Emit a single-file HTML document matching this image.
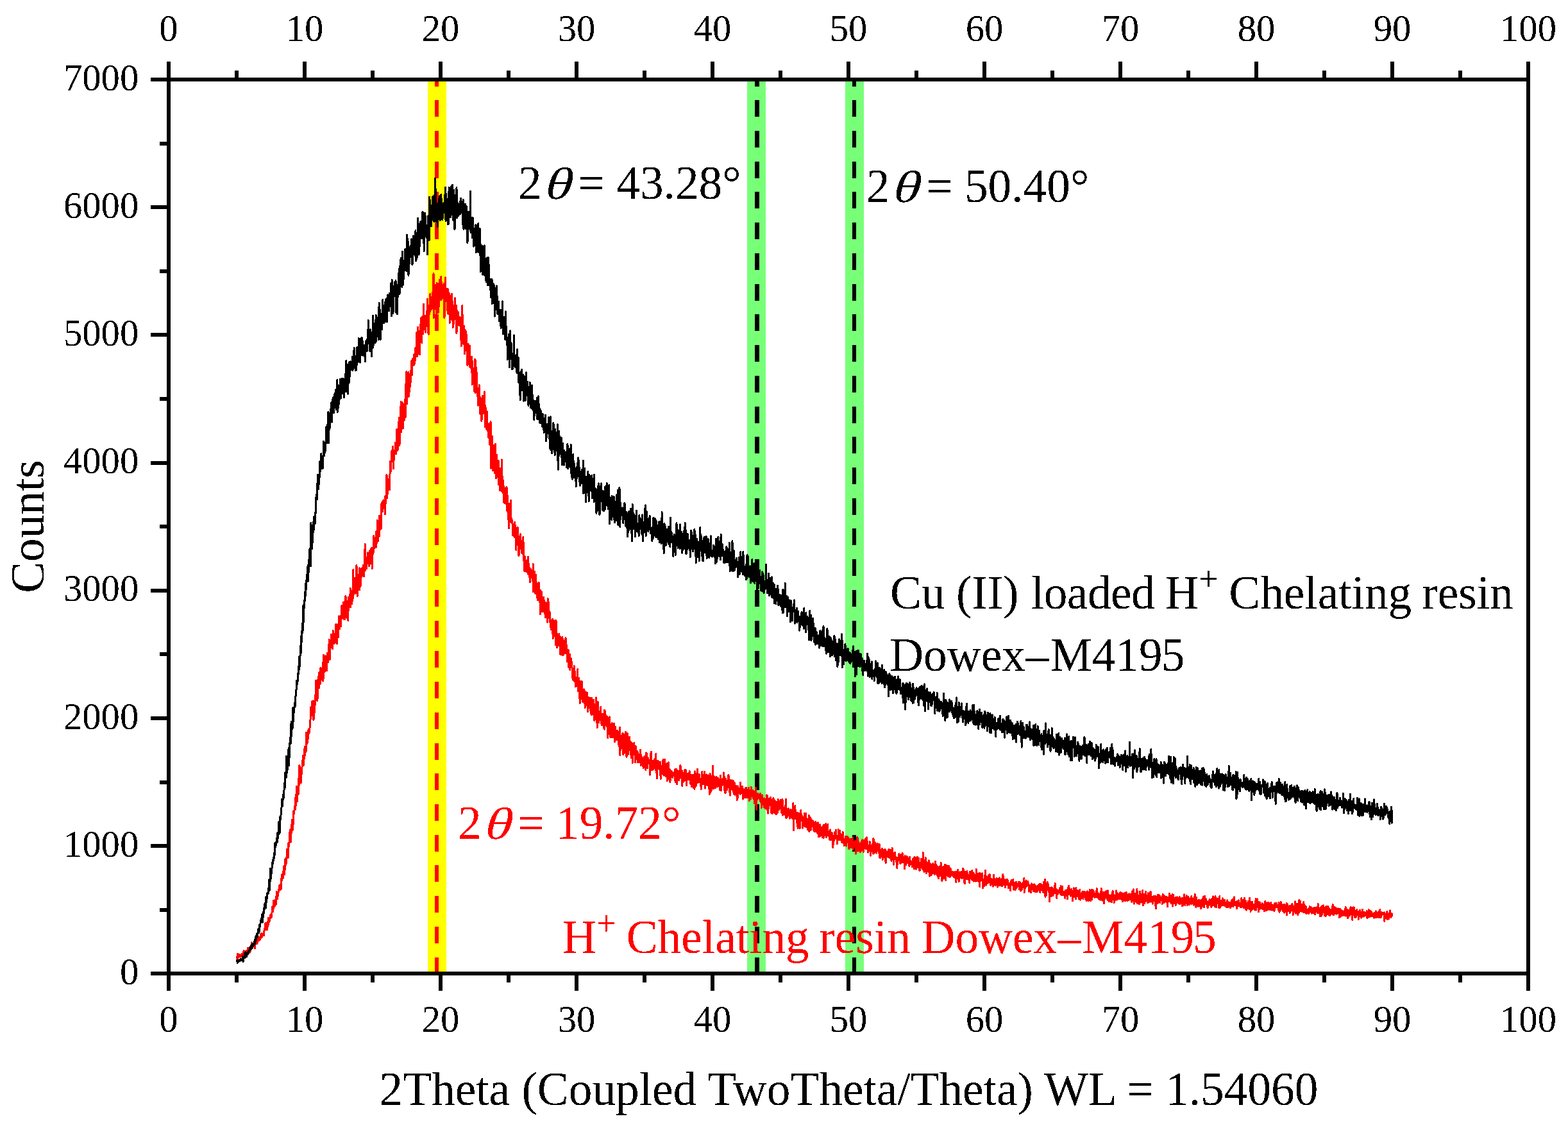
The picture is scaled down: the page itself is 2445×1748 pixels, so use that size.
<!DOCTYPE html>
<html lang="en"><head><meta charset="utf-8"><title>XRD pattern</title>
<style>html,body{margin:0;padding:0;background:#fff}body{width:2445px;height:1748px}svg{display:block}text{font-family:"Liberation Serif",serif;white-space:pre}</style>
</head><body>
<svg width="2445" height="1748" viewBox="0 0 2445 1748">
<defs><filter id="aa" filterUnits="userSpaceOnUse" x="0" y="0" width="2445" height="1748" color-interpolation-filters="sRGB"><feComponentTransfer><feFuncA type="discrete" tableValues="0 1"/></feComponentTransfer></filter></defs>
<rect x="0" y="0" width="2445" height="1748" fill="#ffffff"/>
<rect x="667" y="124" width="29" height="1394" fill="#ffff00" shape-rendering="crispEdges"/>
<rect x="1165" y="124" width="29" height="1394" fill="#78ff78" shape-rendering="crispEdges"/>
<rect x="1318" y="124" width="29" height="1394" fill="#78ff78" shape-rendering="crispEdges"/>
<line x1="681.0" y1="124" x2="681.0" y2="1518" stroke="#ff0000" stroke-width="6" stroke-dasharray="26 21.73" stroke-dashoffset="15.5" shape-rendering="crispEdges"/>
<line x1="1180.5" y1="124" x2="1180.5" y2="1518" stroke="#000000" stroke-width="7" stroke-dasharray="26 21.73" stroke-dashoffset="15.5" shape-rendering="crispEdges"/>
<line x1="1332.0" y1="124" x2="1332.0" y2="1518" stroke="#000000" stroke-width="6" stroke-dasharray="26 21.73" stroke-dashoffset="15.5" shape-rendering="crispEdges"/>
<polyline fill="none" stroke="#ff0000" stroke-width="3" stroke-linejoin="round" shape-rendering="crispEdges" points="369.0,1491.1 369.4,1492.7 369.8,1492.4 370.3,1497.0 370.7,1487.2 371.1,1488.7 371.5,1492.0 372.0,1489.4 372.4,1490.4 372.8,1492.2 373.2,1488.6 373.7,1491.4 374.1,1491.4 374.5,1492.3 374.9,1489.2 375.4,1490.4 375.8,1488.7 376.2,1491.2 376.6,1489.3 377.1,1491.5 377.5,1487.1 377.9,1488.5 378.3,1487.9 378.8,1487.5 379.2,1490.7 379.6,1486.1 380.0,1482.7 380.4,1491.5 380.9,1491.5 381.3,1490.6 381.7,1484.5 382.1,1486.0 382.6,1483.3 383.0,1483.8 383.4,1484.8 383.8,1484.3 384.3,1485.1 384.7,1482.1 385.1,1486.9 385.5,1484.8 386.0,1482.6 386.4,1478.2 386.8,1484.6 387.2,1485.0 387.7,1483.3 388.1,1478.8 388.5,1481.6 388.9,1477.0 389.4,1485.3 389.8,1476.7 390.2,1476.5 390.6,1482.9 391.0,1478.1 391.5,1474.6 391.9,1477.4 392.3,1474.3 392.7,1469.9 393.2,1475.5 393.6,1476.6 394.0,1477.6 394.4,1473.0 394.9,1475.0 395.3,1474.5 395.7,1473.8 396.1,1471.1 396.6,1475.7 397.0,1476.7 397.4,1479.0 397.8,1467.4 398.3,1470.4 398.7,1465.4 399.1,1469.6 399.5,1471.4 400.0,1467.1 400.4,1468.3 400.8,1471.6 401.2,1469.9 401.6,1460.9 402.1,1464.9 402.5,1464.2 402.9,1465.9 403.3,1466.8 403.8,1461.1 404.2,1463.8 404.6,1465.5 405.0,1462.9 405.5,1465.0 405.9,1460.8 406.3,1457.1 406.7,1463.2 407.2,1455.0 407.6,1461.6 408.0,1458.2 408.4,1461.0 408.9,1458.2 409.3,1456.6 409.7,1457.6 410.1,1457.9 410.6,1457.1 411.0,1456.8 411.4,1458.8 411.8,1453.3 412.2,1450.1 412.7,1447.4 413.1,1447.6 413.5,1440.0 413.9,1447.0 414.4,1449.1 414.8,1439.4 415.2,1449.5 415.6,1441.0 416.1,1447.4 416.5,1441.4 416.9,1449.5 417.3,1437.4 417.8,1440.5 418.2,1442.8 418.6,1431.2 419.0,1433.8 419.5,1435.6 419.9,1437.7 420.3,1433.7 420.7,1433.0 421.2,1428.1 421.6,1426.6 422.0,1431.5 422.4,1429.7 422.8,1428.3 423.3,1430.5 423.7,1426.0 424.1,1422.4 424.5,1417.6 425.0,1413.5 425.4,1421.6 425.8,1414.1 426.2,1417.2 426.7,1404.4 427.1,1412.7 427.5,1408.8 427.9,1414.1 428.4,1412.2 428.8,1406.1 429.2,1407.5 429.6,1402.7 430.1,1410.5 430.5,1398.5 430.9,1404.7 431.3,1390.7 431.8,1399.1 432.2,1391.0 432.6,1401.9 433.0,1391.5 433.4,1396.7 433.9,1393.3 434.3,1389.3 434.7,1389.6 435.1,1385.2 435.6,1381.2 436.0,1380.2 436.4,1382.5 436.8,1387.7 437.3,1383.2 437.7,1378.5 438.1,1387.1 438.5,1370.2 439.0,1373.8 439.4,1372.2 439.8,1363.9 440.2,1363.7 440.7,1364.3 441.1,1369.3 441.5,1360.2 441.9,1358.1 442.4,1363.2 442.8,1350.4 443.2,1351.4 443.6,1363.7 444.0,1349.7 444.5,1355.8 444.9,1339.8 445.3,1339.6 445.7,1348.8 446.2,1345.5 446.6,1337.5 447.0,1337.4 447.4,1324.6 447.9,1327.1 448.3,1331.1 448.7,1323.5 449.1,1337.4 449.6,1320.5 450.0,1314.6 450.4,1318.8 450.8,1319.8 451.3,1309.2 451.7,1297.8 452.1,1306.6 452.5,1312.7 453.0,1293.4 453.4,1312.7 453.8,1294.5 454.2,1299.2 454.6,1286.5 455.1,1295.9 455.5,1278.6 455.9,1282.9 456.3,1294.1 456.8,1293.1 457.2,1278.9 457.6,1264.9 458.0,1270.3 458.5,1267.9 458.9,1267.2 459.3,1257.4 459.7,1257.2 460.2,1255.1 460.6,1261.4 461.0,1242.9 461.4,1238.8 461.9,1255.6 462.3,1226.3 462.7,1235.3 463.1,1241.7 463.6,1249.8 464.0,1228.0 464.4,1226.1 464.8,1232.3 465.2,1238.9 465.7,1214.1 466.1,1224.8 466.5,1221.4 466.9,1193.2 467.4,1196.2 467.8,1202.9 468.2,1211.5 468.6,1200.4 469.1,1221.2 469.5,1199.9 469.9,1204.5 470.3,1206.4 470.8,1206.5 471.2,1187.3 471.6,1188.6 472.0,1185.8 472.5,1178.1 472.9,1189.7 473.3,1190.7 473.7,1193.1 474.2,1179.1 474.6,1167.8 475.0,1173.2 475.4,1164.4 475.8,1177.4 476.3,1169.2 476.7,1169.5 477.1,1171.2 477.5,1142.6 478.0,1148.7 478.4,1160.0 478.8,1157.5 479.2,1148.9 479.7,1158.2 480.1,1139.4 480.5,1151.7 480.9,1141.1 481.4,1144.2 481.8,1136.9 482.2,1141.9 482.6,1141.5 483.1,1133.8 483.5,1128.9 483.9,1123.2 484.3,1117.8 484.8,1102.7 485.2,1107.1 485.6,1114.7 486.0,1104.0 486.4,1114.9 486.9,1093.8 487.3,1100.2 487.7,1115.8 488.1,1094.9 488.6,1092.7 489.0,1123.1 489.4,1103.8 489.8,1099.6 490.3,1111.4 490.7,1101.9 491.1,1099.2 491.5,1084.2 492.0,1084.5 492.4,1061.2 492.8,1087.6 493.2,1071.5 493.7,1079.7 494.1,1076.2 494.5,1087.8 494.9,1093.1 495.4,1080.6 495.8,1064.4 496.2,1054.8 496.6,1062.3 497.0,1061.5 497.5,1072.5 497.9,1048.2 498.3,1048.4 498.7,1064.7 499.2,1058.5 499.6,1066.1 500.0,1041.1 500.4,1049.9 500.9,1053.4 501.3,1047.2 501.7,1045.6 502.1,1052.6 502.6,1059.5 503.0,1058.7 503.4,1061.9 503.8,1039.4 504.3,1021.2 504.7,1058.1 505.1,1039.1 505.5,1035.3 506.0,1047.7 506.4,1034.9 506.8,1046.5 507.2,1022.8 507.6,1039.2 508.1,1031.1 508.5,1024.1 508.9,1033.8 509.3,1045.9 509.8,1032.2 510.2,1018.1 510.6,1025.1 511.0,1020.7 511.5,1032.4 511.9,1018.8 512.3,1011.7 512.7,1017.2 513.2,997.1 513.6,1017.0 514.0,1024.0 514.4,1028.4 514.9,999.3 515.3,1010.1 515.7,998.0 516.1,1002.3 516.6,989.2 517.0,991.6 517.4,1006.9 517.8,999.1 518.2,989.6 518.7,1012.0 519.1,983.5 519.5,984.7 519.9,985.9 520.4,996.8 520.8,990.5 521.2,1003.9 521.6,990.7 522.1,996.2 522.5,988.2 522.9,993.0 523.3,983.9 523.8,973.6 524.2,998.1 524.6,973.9 525.0,1003.0 525.5,1003.7 525.9,981.5 526.3,979.1 526.7,973.5 527.2,994.1 527.6,976.6 528.0,973.6 528.4,960.8 528.8,973.9 529.3,966.2 529.7,980.9 530.1,971.6 530.5,973.3 531.0,960.2 531.4,976.9 531.8,974.3 532.2,958.5 532.7,944.7 533.1,958.5 533.5,958.3 533.9,964.1 534.4,948.0 534.8,952.8 535.2,939.1 535.6,952.9 536.1,965.5 536.5,960.5 536.9,963.9 537.3,965.7 537.8,938.0 538.2,941.9 538.6,962.6 539.0,929.5 539.4,944.9 539.9,956.7 540.3,941.4 540.7,945.3 541.1,951.8 541.6,963.4 542.0,941.2 542.4,937.5 542.8,967.4 543.3,932.8 543.7,931.1 544.1,941.9 544.5,934.7 545.0,938.0 545.4,943.0 545.8,937.0 546.2,917.5 546.7,946.9 547.1,927.7 547.5,927.4 547.9,936.1 548.4,932.3 548.8,941.8 549.2,934.9 549.6,924.6 550.0,920.3 550.5,932.7 550.9,888.7 551.3,927.3 551.7,918.8 552.2,921.7 552.6,922.7 553.0,903.2 553.4,921.7 553.9,901.0 554.3,902.1 554.7,925.2 555.1,901.5 555.6,919.1 556.0,880.9 556.4,914.3 556.8,919.5 557.3,929.3 557.7,921.6 558.1,912.8 558.5,916.5 559.0,918.2 559.4,911.4 559.8,905.0 560.2,885.8 560.6,919.8 561.1,906.1 561.5,909.6 561.9,914.9 562.3,911.2 562.8,906.3 563.2,887.3 563.6,896.5 564.0,899.4 564.5,885.7 564.9,888.5 565.3,893.2 565.7,885.5 566.2,898.2 566.6,881.0 567.0,882.0 567.4,890.9 567.9,899.1 568.3,867.5 568.7,882.7 569.1,848.6 569.6,889.4 570.0,871.6 570.4,885.2 570.8,876.6 571.2,869.2 571.7,886.8 572.1,878.0 572.5,874.2 572.9,873.9 573.4,867.5 573.8,861.8 574.2,863.0 574.6,868.6 575.1,874.6 575.5,882.6 575.9,877.2 576.3,873.9 576.8,859.1 577.2,870.1 577.6,879.1 578.0,856.8 578.5,872.1 578.9,870.7 579.3,863.4 579.7,854.4 580.2,886.3 580.6,870.4 581.0,854.4 581.4,859.5 581.8,864.1 582.3,859.1 582.7,835.7 583.1,855.7 583.5,840.9 584.0,838.7 584.4,851.6 584.8,839.9 585.2,848.8 585.7,849.1 586.1,853.6 586.5,828.8 586.9,842.0 587.4,842.2 587.8,847.2 588.2,811.3 588.6,822.0 589.1,830.5 589.5,835.3 589.9,843.3 590.3,820.1 590.8,818.4 591.2,836.5 591.6,804.3 592.0,807.0 592.4,825.7 592.9,819.0 593.3,815.5 593.7,806.6 594.1,808.4 594.6,824.2 595.0,785.2 595.4,797.0 595.8,783.8 596.3,781.9 596.7,797.5 597.1,788.9 597.5,782.3 598.0,779.9 598.4,789.2 598.8,792.7 599.2,782.7 599.7,790.8 600.1,785.7 600.5,801.5 600.9,773.7 601.4,785.0 601.8,777.1 602.2,768.8 602.6,762.1 603.0,740.5 603.5,758.9 603.9,776.5 604.3,755.3 604.7,762.0 605.2,747.5 605.6,758.6 606.0,756.6 606.4,751.9 606.9,751.1 607.3,763.8 607.7,747.2 608.1,736.8 608.6,719.4 609.0,735.9 609.4,734.7 609.8,720.6 610.3,719.0 610.7,703.5 611.1,714.2 611.5,719.7 612.0,700.6 612.4,696.1 612.8,719.5 613.2,709.5 613.6,731.0 614.1,712.4 614.5,717.1 614.9,706.7 615.3,708.3 615.8,702.5 616.2,699.9 616.6,690.4 617.0,692.0 617.5,700.4 617.9,707.9 618.3,673.8 618.7,669.6 619.2,692.0 619.6,677.1 620.0,702.3 620.4,701.0 620.9,682.5 621.3,658.2 621.7,689.0 622.1,684.5 622.6,651.0 623.0,694.6 623.4,659.8 623.8,660.0 624.2,667.2 624.7,660.1 625.1,626.4 625.5,673.5 625.9,660.9 626.4,657.9 626.8,661.9 627.2,668.4 627.6,627.8 628.1,643.8 628.5,667.9 628.9,651.9 629.3,635.2 629.8,633.2 630.2,655.5 630.6,635.5 631.0,628.8 631.5,624.9 631.9,622.8 632.3,650.2 632.7,599.2 633.2,618.9 633.6,595.5 634.0,579.2 634.4,617.6 634.8,629.9 635.3,599.6 635.7,611.6 636.1,613.2 636.5,619.0 637.0,580.2 637.4,606.9 637.8,617.9 638.2,603.0 638.7,610.5 639.1,590.6 639.5,596.4 639.9,603.0 640.4,578.3 640.8,593.1 641.2,572.4 641.6,562.9 642.1,583.0 642.5,584.8 642.9,571.1 643.3,559.5 643.8,569.7 644.2,565.6 644.6,565.9 645.0,559.2 645.4,552.8 645.9,569.2 646.3,564.2 646.7,555.0 647.1,562.9 647.6,549.9 648.0,542.5 648.4,548.5 648.8,554.8 649.3,555.5 649.7,518.6 650.1,529.1 650.5,555.4 651.0,550.0 651.4,510.5 651.8,514.0 652.2,531.8 652.7,515.9 653.1,551.5 653.5,529.2 653.9,517.4 654.4,552.6 654.8,536.1 655.2,512.7 655.6,506.4 656.0,529.3 656.5,515.5 656.9,495.7 657.3,522.4 657.7,534.5 658.2,515.3 658.6,518.7 659.0,493.4 659.4,508.3 659.9,520.7 660.3,474.0 660.7,513.9 661.1,498.8 661.6,494.7 662.0,491.9 662.4,499.3 662.8,492.1 663.3,500.1 663.7,518.1 664.1,499.7 664.5,498.1 665.0,496.5 665.4,490.7 665.8,500.3 666.2,471.1 666.6,466.3 667.1,519.0 667.5,486.0 667.9,495.1 668.3,521.1 668.8,476.5 669.2,490.1 669.6,485.4 670.0,488.2 670.5,462.1 670.9,458.7 671.3,471.5 671.7,464.5 672.2,475.0 672.6,470.4 673.0,482.2 673.4,470.1 673.9,480.0 674.3,463.5 674.7,456.2 675.1,462.8 675.6,449.4 676.0,426.8 676.4,495.4 676.8,463.9 677.2,471.5 677.7,469.1 678.1,481.4 678.5,460.2 678.9,464.0 679.4,468.8 679.8,462.6 680.2,466.9 680.6,491.8 681.1,441.6 681.5,461.2 681.9,470.2 682.3,451.6 682.8,465.5 683.2,487.3 683.6,442.7 684.0,480.0 684.5,458.8 684.9,453.9 685.3,436.2 685.7,438.6 686.2,453.7 686.6,467.4 687.0,462.6 687.4,441.0 687.8,431.2 688.3,449.6 688.7,467.2 689.1,443.2 689.5,464.0 690.0,464.9 690.4,463.4 690.8,451.3 691.2,456.3 691.7,446.3 692.1,442.4 692.5,454.2 692.9,496.0 693.4,487.2 693.8,460.8 694.2,464.6 694.6,432.8 695.1,465.0 695.5,467.3 695.9,451.9 696.3,450.7 696.8,469.9 697.2,460.2 697.6,483.9 698.0,481.6 698.4,450.7 698.9,489.3 699.3,456.2 699.7,460.3 700.1,459.5 700.6,458.0 701.0,463.7 701.4,503.3 701.8,487.5 702.3,482.3 702.7,461.1 703.1,491.2 703.5,485.7 704.0,481.5 704.4,458.0 704.8,498.4 705.2,497.9 705.7,470.1 706.1,510.4 706.5,475.8 706.9,487.9 707.4,504.8 707.8,489.0 708.2,498.2 708.6,482.2 709.0,480.2 709.5,465.0 709.9,487.4 710.3,486.8 710.7,497.5 711.2,490.6 711.6,476.3 712.0,519.9 712.4,484.1 712.9,502.3 713.3,494.8 713.7,492.5 714.1,486.2 714.6,496.2 715.0,506.4 715.4,497.7 715.8,503.2 716.3,507.6 716.7,503.0 717.1,494.8 717.5,506.6 718.0,507.6 718.4,529.3 718.8,514.1 719.2,539.9 719.6,504.7 720.1,529.4 720.5,499.1 720.9,476.4 721.3,525.5 721.8,502.5 722.2,516.8 722.6,531.7 723.0,537.0 723.5,518.6 723.9,508.2 724.3,524.2 724.7,551.7 725.2,546.5 725.6,536.5 726.0,515.7 726.4,532.1 726.9,533.0 727.3,522.1 727.7,543.3 728.1,543.2 728.6,546.0 729.0,569.7 729.4,540.0 729.8,542.4 730.2,536.2 730.7,567.9 731.1,564.4 731.5,541.9 731.9,552.1 732.4,539.3 732.8,572.0 733.2,559.1 733.6,573.0 734.1,561.2 734.5,574.0 734.9,561.7 735.3,556.0 735.8,563.4 736.2,599.3 736.6,563.4 737.0,571.9 737.5,594.0 737.9,593.6 738.3,583.1 738.7,577.0 739.2,592.7 739.6,610.3 740.0,586.0 740.4,589.2 740.8,560.0 741.3,612.3 741.7,562.2 742.1,574.4 742.5,595.6 743.0,578.9 743.4,601.6 743.8,591.3 744.2,616.0 744.7,606.7 745.1,623.0 745.5,632.1 745.9,616.2 746.4,622.9 746.8,608.0 747.2,600.2 747.6,621.0 748.1,619.5 748.5,619.3 748.9,645.8 749.3,621.3 749.8,626.2 750.2,628.4 750.6,643.9 751.0,657.0 751.4,635.4 751.9,629.3 752.3,617.1 752.7,621.3 753.1,618.4 753.6,634.2 754.0,625.2 754.4,644.6 754.8,635.0 755.3,632.5 755.7,610.8 756.1,644.6 756.5,666.0 757.0,632.7 757.4,662.8 757.8,654.8 758.2,659.6 758.7,669.3 759.1,641.7 759.5,653.2 759.9,670.9 760.4,663.9 760.8,672.4 761.2,660.8 761.6,675.8 762.0,682.8 762.5,683.3 762.9,682.7 763.3,675.5 763.7,693.2 764.2,684.6 764.6,679.9 765.0,657.7 765.4,678.9 765.9,730.2 766.3,700.6 766.7,701.2 767.1,694.1 767.6,680.2 768.0,692.7 768.4,733.5 768.8,702.2 769.3,706.5 769.7,704.5 770.1,694.2 770.5,727.0 771.0,700.9 771.4,737.4 771.8,717.5 772.2,715.0 772.6,692.6 773.1,731.8 773.5,745.8 773.9,717.5 774.3,735.9 774.8,709.6 775.2,739.5 775.6,743.1 776.0,718.1 776.5,734.0 776.9,724.1 777.3,755.9 777.7,718.9 778.2,748.3 778.6,732.2 779.0,756.3 779.4,764.5 779.9,749.8 780.3,745.9 780.7,730.0 781.1,746.6 781.6,743.5 782.0,745.7 782.4,716.9 782.8,766.8 783.2,742.7 783.7,761.4 784.1,757.8 784.5,769.2 784.9,749.7 785.4,780.8 785.8,783.1 786.2,771.0 786.6,784.1 787.1,762.9 787.5,761.7 787.9,783.6 788.3,766.4 788.8,785.5 789.2,779.5 789.6,780.4 790.0,759.3 790.5,783.5 790.9,796.1 791.3,797.6 791.7,773.6 792.2,809.7 792.6,796.7 793.0,797.2 793.4,823.5 793.8,801.2 794.3,785.1 794.7,795.8 795.1,810.8 795.5,793.3 796.0,796.9 796.4,780.4 796.8,814.8 797.2,812.1 797.7,808.4 798.1,812.0 798.5,810.8 798.9,814.5 799.4,822.9 799.8,835.0 800.2,824.1 800.6,835.3 801.1,832.7 801.5,828.1 801.9,817.1 802.3,814.4 802.8,838.0 803.2,823.5 803.6,819.1 804.0,830.3 804.4,850.3 804.9,857.6 805.3,824.5 805.7,824.3 806.1,833.1 806.6,849.8 807.0,821.9 807.4,826.0 807.8,841.8 808.3,845.1 808.7,866.5 809.1,836.3 809.5,864.9 810.0,839.6 810.4,840.2 810.8,848.7 811.2,832.8 811.7,855.9 812.1,846.6 812.5,845.4 812.9,852.8 813.4,861.7 813.8,843.9 814.2,854.3 814.6,862.5 815.0,863.3 815.5,861.1 815.9,837.7 816.3,863.6 816.7,868.7 817.2,879.2 817.6,882.1 818.0,890.9 818.4,867.7 818.9,871.2 819.3,884.3 819.7,890.6 820.1,878.5 820.6,881.8 821.0,892.1 821.4,874.7 821.8,877.5 822.3,880.8 822.7,872.6 823.1,889.7 823.5,868.2 824.0,895.9 824.4,879.8 824.8,879.5 825.2,890.6 825.6,884.8 826.1,904.2 826.5,907.6 826.9,894.1 827.3,901.0 827.8,887.3 828.2,894.6 828.6,889.0 829.0,893.4 829.5,895.6 829.9,897.9 830.3,904.0 830.7,906.0 831.2,879.3 831.6,922.4 832.0,905.9 832.4,893.7 832.9,901.2 833.3,891.2 833.7,901.7 834.1,922.6 834.6,913.3 835.0,926.1 835.4,900.8 835.8,896.7 836.2,918.4 836.7,908.5 837.1,920.0 837.5,932.2 837.9,922.3 838.4,935.7 838.8,925.5 839.2,918.0 839.6,913.3 840.1,908.1 840.5,926.8 840.9,921.6 841.3,920.6 841.8,920.1 842.2,958.0 842.6,936.5 843.0,920.4 843.5,942.2 843.9,928.4 844.3,923.0 844.7,953.5 845.2,936.1 845.6,932.5 846.0,935.9 846.4,953.5 846.8,934.3 847.3,945.1 847.7,931.2 848.1,936.4 848.5,948.0 849.0,941.2 849.4,951.5 849.8,952.6 850.2,963.0 850.7,949.7 851.1,939.6 851.5,948.0 851.9,950.5 852.4,958.0 852.8,957.9 853.2,945.4 853.6,970.2 854.1,933.5 854.5,957.0 854.9,934.4 855.3,946.0 855.8,963.8 856.2,952.6 856.6,958.7 857.0,957.5 857.4,955.1 857.9,970.2 858.3,971.9 858.7,970.8 859.1,981.7 859.6,971.1 860.0,967.0 860.4,967.7 860.8,969.3 861.3,976.4 861.7,965.1 862.1,995.6 862.5,979.4 863.0,979.6 863.4,967.8 863.8,971.2 864.2,970.8 864.7,979.9 865.1,971.1 865.5,992.3 865.9,982.1 866.4,1005.6 866.8,967.0 867.2,969.2 867.6,992.7 868.0,996.2 868.5,1009.9 868.9,1005.0 869.3,988.9 869.7,992.6 870.2,1007.0 870.6,997.9 871.0,1000.4 871.4,989.7 871.9,988.1 872.3,998.4 872.7,995.9 873.1,998.0 873.6,1020.1 874.0,997.8 874.4,1001.2 874.8,993.8 875.3,1020.9 875.7,995.4 876.1,1010.5 876.5,1002.2 877.0,993.5 877.4,1021.6 877.8,1020.8 878.2,998.4 878.6,1020.8 879.1,1019.9 879.5,1005.1 879.9,1014.1 880.3,1005.1 880.8,1010.9 881.2,1015.1 881.6,1005.9 882.0,994.8 882.5,1018.6 882.9,1003.8 883.3,1008.2 883.7,1019.4 884.2,1016.9 884.6,1031.8 885.0,1029.6 885.4,1021.7 885.9,1025.9 886.3,1013.6 886.7,1040.3 887.1,1031.4 887.6,1035.8 888.0,1032.1 888.4,1020.1 888.8,1044.5 889.2,1025.3 889.7,1040.5 890.1,1038.9 890.5,1027.0 890.9,1040.6 891.4,1032.4 891.8,1038.8 892.2,1042.7 892.6,1045.6 893.1,1060.0 893.5,1051.4 893.9,1043.6 894.3,1044.3 894.8,1061.7 895.2,1038.6 895.6,1043.8 896.0,1063.1 896.5,1061.7 896.9,1047.8 897.3,1070.8 897.7,1062.1 898.2,1056.7 898.6,1058.5 899.0,1059.0 899.4,1055.9 899.8,1068.5 900.3,1066.7 900.7,1043.6 901.1,1077.7 901.5,1069.8 902.0,1065.6 902.4,1074.0 902.8,1057.4 903.2,1069.4 903.7,1064.1 904.1,1097.0 904.5,1062.2 904.9,1063.6 905.4,1082.6 905.8,1064.3 906.2,1075.0 906.6,1069.8 907.1,1062.5 907.5,1079.4 907.9,1090.7 908.3,1082.2 908.8,1094.8 909.2,1091.1 909.6,1091.5 910.0,1091.7 910.4,1074.9 910.9,1078.7 911.3,1095.4 911.7,1077.2 912.1,1103.9 912.6,1095.0 913.0,1090.8 913.4,1079.2 913.8,1084.0 914.3,1087.1 914.7,1079.8 915.1,1085.8 915.5,1080.3 916.0,1100.7 916.4,1109.5 916.8,1098.3 917.2,1087.4 917.7,1093.1 918.1,1087.8 918.5,1090.0 918.9,1092.3 919.4,1090.0 919.8,1104.5 920.2,1088.4 920.6,1108.1 921.0,1100.4 921.5,1112.8 921.9,1095.7 922.3,1115.0 922.7,1088.4 923.2,1114.0 923.6,1099.8 924.0,1103.9 924.4,1111.1 924.9,1092.2 925.3,1108.0 925.7,1091.2 926.1,1114.3 926.6,1112.8 927.0,1124.1 927.4,1101.5 927.8,1098.6 928.3,1105.4 928.7,1109.4 929.1,1116.8 929.5,1087.7 930.0,1102.8 930.4,1126.7 930.8,1113.3 931.2,1134.6 931.6,1097.4 932.1,1094.3 932.5,1099.5 932.9,1113.6 933.3,1119.0 933.8,1126.8 934.2,1109.9 934.6,1121.9 935.0,1119.1 935.5,1122.0 935.9,1119.6 936.3,1109.3 936.7,1102.7 937.2,1117.0 937.6,1118.7 938.0,1129.3 938.4,1130.9 938.9,1129.9 939.3,1113.1 939.7,1119.3 940.1,1113.3 940.6,1118.7 941.0,1126.6 941.4,1134.6 941.8,1127.3 942.2,1137.2 942.7,1107.3 943.1,1123.2 943.5,1129.3 943.9,1108.9 944.4,1130.5 944.8,1122.6 945.2,1129.5 945.6,1125.4 946.1,1132.3 946.5,1125.2 946.9,1117.5 947.3,1141.7 947.8,1150.7 948.2,1119.6 948.6,1130.6 949.0,1124.8 949.5,1135.6 949.9,1119.9 950.3,1117.9 950.7,1144.8 951.2,1129.0 951.6,1140.8 952.0,1150.1 952.4,1139.1 952.8,1131.9 953.3,1149.4 953.7,1149.2 954.1,1127.5 954.5,1138.6 955.0,1135.8 955.4,1149.8 955.8,1146.0 956.2,1139.7 956.7,1139.6 957.1,1140.4 957.5,1128.3 957.9,1141.2 958.4,1156.5 958.8,1151.2 959.2,1144.6 959.6,1133.4 960.1,1151.0 960.5,1148.9 960.9,1146.2 961.3,1152.6 961.8,1154.0 962.2,1149.4 962.6,1139.1 963.0,1144.0 963.4,1151.2 963.9,1145.6 964.3,1160.7 964.7,1141.3 965.1,1144.0 965.6,1148.3 966.0,1165.4 966.4,1134.1 966.8,1177.4 967.3,1161.2 967.7,1160.9 968.1,1147.4 968.5,1166.7 969.0,1152.2 969.4,1156.0 969.8,1157.6 970.2,1148.1 970.7,1143.6 971.1,1152.9 971.5,1159.1 971.9,1176.7 972.4,1144.9 972.8,1160.5 973.2,1174.2 973.6,1157.4 974.0,1146.7 974.5,1160.7 974.9,1169.9 975.3,1141.0 975.7,1155.5 976.2,1158.2 976.6,1152.8 977.0,1180.4 977.4,1162.9 977.9,1164.1 978.3,1143.7 978.7,1168.2 979.1,1168.5 979.6,1176.1 980.0,1171.6 980.4,1166.8 980.8,1163.2 981.3,1167.5 981.7,1149.2 982.1,1162.5 982.5,1161.7 983.0,1155.9 983.4,1162.5 983.8,1172.7 984.2,1181.8 984.6,1166.1 985.1,1176.6 985.5,1158.8 985.9,1176.9 986.3,1189.6 986.8,1170.9 987.2,1162.6 987.6,1173.8 988.0,1170.9 988.5,1171.6 988.9,1158.8 989.3,1171.2 989.7,1174.5 990.2,1179.7 990.6,1188.7 991.0,1163.5 991.4,1166.1 991.9,1184.1 992.3,1171.4 992.7,1174.2 993.1,1180.5 993.6,1180.3 994.0,1171.8 994.4,1188.6 994.8,1183.2 995.2,1179.9 995.7,1179.7 996.1,1181.7 996.5,1178.5 996.9,1176.3 997.4,1188.5 997.8,1180.7 998.2,1186.1 998.6,1169.5 999.1,1194.1 999.5,1184.7 999.9,1177.2 1000.3,1185.7 1000.8,1186.4 1001.2,1188.4 1001.6,1181.7 1002.0,1194.2 1002.5,1185.5 1002.9,1185.9 1003.3,1197.4 1003.7,1183.3 1004.2,1189.7 1004.6,1183.5 1005.0,1179.2 1005.4,1183.7 1005.8,1196.6 1006.3,1184.4 1006.7,1200.5 1007.1,1193.8 1007.5,1174.0 1008.0,1187.9 1008.4,1175.4 1008.8,1189.9 1009.2,1188.6 1009.7,1198.0 1010.1,1181.3 1010.5,1190.9 1010.9,1184.4 1011.4,1186.1 1011.8,1185.5 1012.2,1187.4 1012.6,1190.6 1013.1,1190.5 1013.5,1196.3 1013.9,1208.2 1014.3,1187.0 1014.8,1174.2 1015.2,1182.6 1015.6,1172.5 1016.0,1187.8 1016.4,1199.8 1016.9,1200.1 1017.3,1186.2 1017.7,1189.6 1018.1,1193.9 1018.6,1186.7 1019.0,1200.1 1019.4,1188.9 1019.8,1195.6 1020.3,1192.2 1020.7,1184.0 1021.1,1195.0 1021.5,1182.8 1022.0,1183.4 1022.4,1200.5 1022.8,1175.6 1023.2,1204.8 1023.7,1195.7 1024.1,1189.1 1024.5,1213.8 1024.9,1187.0 1025.4,1186.4 1025.8,1196.7 1026.2,1193.7 1026.6,1194.4 1027.0,1198.0 1027.5,1187.8 1027.9,1199.7 1028.3,1197.2 1028.7,1194.1 1029.2,1190.4 1029.6,1188.5 1030.0,1209.6 1030.4,1214.3 1030.9,1199.2 1031.3,1198.7 1031.7,1207.2 1032.1,1196.2 1032.6,1193.7 1033.0,1195.9 1033.4,1185.9 1033.8,1207.8 1034.3,1199.4 1034.7,1184.2 1035.1,1194.5 1035.5,1209.2 1036.0,1198.8 1036.4,1191.1 1036.8,1184.0 1037.2,1195.6 1037.6,1191.8 1038.1,1210.3 1038.5,1203.5 1038.9,1192.1 1039.3,1209.6 1039.8,1202.6 1040.2,1217.3 1040.6,1190.6 1041.0,1203.7 1041.5,1198.3 1041.9,1215.1 1042.3,1213.8 1042.7,1188.8 1043.2,1206.3 1043.6,1208.1 1044.0,1199.8 1044.4,1199.6 1044.9,1220.0 1045.3,1212.2 1045.7,1204.1 1046.1,1204.7 1046.6,1202.1 1047.0,1208.5 1047.4,1207.4 1047.8,1203.6 1048.2,1211.0 1048.7,1212.3 1049.1,1210.1 1049.5,1205.8 1049.9,1207.2 1050.4,1210.0 1050.8,1208.3 1051.2,1206.8 1051.6,1204.0 1052.1,1203.8 1052.5,1217.0 1052.9,1199.1 1053.3,1219.8 1053.8,1202.8 1054.2,1212.8 1054.6,1202.7 1055.0,1199.0 1055.5,1222.5 1055.9,1202.9 1056.3,1205.6 1056.7,1211.5 1057.2,1204.9 1057.6,1212.0 1058.0,1207.2 1058.4,1216.6 1058.8,1202.1 1059.3,1203.7 1059.7,1202.6 1060.1,1213.8 1060.5,1194.1 1061.0,1193.1 1061.4,1209.5 1061.8,1212.2 1062.2,1212.2 1062.7,1203.6 1063.1,1201.0 1063.5,1215.1 1063.9,1225.3 1064.4,1205.8 1064.8,1209.8 1065.2,1208.2 1065.6,1205.5 1066.1,1218.5 1066.5,1209.2 1066.9,1212.2 1067.3,1206.9 1067.8,1200.4 1068.2,1210.1 1068.6,1216.9 1069.0,1200.4 1069.4,1204.7 1069.9,1212.0 1070.3,1224.7 1070.7,1217.5 1071.1,1209.5 1071.6,1206.4 1072.0,1215.0 1072.4,1207.5 1072.8,1216.0 1073.3,1214.4 1073.7,1207.0 1074.1,1213.4 1074.5,1210.3 1075.0,1204.6 1075.4,1202.6 1075.8,1216.3 1076.2,1213.7 1076.7,1222.2 1077.1,1222.1 1077.5,1209.6 1077.9,1216.2 1078.4,1226.7 1078.8,1208.1 1079.2,1218.9 1079.6,1214.9 1080.0,1209.3 1080.5,1209.5 1080.9,1213.1 1081.3,1228.4 1081.7,1208.4 1082.2,1217.6 1082.6,1224.1 1083.0,1230.4 1083.4,1202.9 1083.9,1212.2 1084.3,1212.5 1084.7,1208.7 1085.1,1214.2 1085.6,1225.2 1086.0,1208.4 1086.4,1206.0 1086.8,1209.8 1087.3,1202.0 1087.7,1199.2 1088.1,1220.4 1088.5,1217.7 1089.0,1207.4 1089.4,1213.0 1089.8,1212.8 1090.2,1207.3 1090.6,1208.9 1091.1,1218.2 1091.5,1213.8 1091.9,1220.4 1092.3,1216.5 1092.8,1223.7 1093.2,1230.4 1093.6,1219.1 1094.0,1219.9 1094.5,1208.4 1094.9,1203.2 1095.3,1215.3 1095.7,1211.9 1096.2,1220.6 1096.6,1223.0 1097.0,1218.1 1097.4,1218.2 1097.9,1213.7 1098.3,1215.2 1098.7,1203.3 1099.1,1217.9 1099.6,1229.1 1100.0,1215.5 1100.4,1221.6 1100.8,1215.0 1101.2,1207.9 1101.7,1221.7 1102.1,1217.4 1102.5,1212.9 1102.9,1224.3 1103.4,1215.4 1103.8,1212.9 1104.2,1210.9 1104.6,1208.8 1105.1,1213.1 1105.5,1214.4 1105.9,1228.3 1106.3,1238.3 1106.8,1225.1 1107.2,1206.7 1107.6,1216.9 1108.0,1235.3 1108.5,1221.2 1108.9,1215.2 1109.3,1232.4 1109.7,1213.7 1110.2,1227.1 1110.6,1210.3 1111.0,1218.1 1111.4,1194.5 1111.8,1228.8 1112.3,1216.4 1112.7,1230.0 1113.1,1209.9 1113.5,1217.8 1114.0,1211.8 1114.4,1218.1 1114.8,1228.0 1115.2,1224.1 1115.7,1228.7 1116.1,1227.3 1116.5,1218.2 1116.9,1211.2 1117.4,1212.9 1117.8,1215.6 1118.2,1224.0 1118.6,1215.8 1119.1,1226.4 1119.5,1218.3 1119.9,1213.6 1120.3,1221.5 1120.8,1223.8 1121.2,1223.6 1121.6,1215.7 1122.0,1222.9 1122.4,1231.5 1122.9,1223.8 1123.3,1228.9 1123.7,1209.4 1124.1,1220.9 1124.6,1232.4 1125.0,1219.2 1125.4,1215.8 1125.8,1218.5 1126.3,1224.3 1126.7,1220.5 1127.1,1219.6 1127.5,1214.2 1128.0,1219.2 1128.4,1204.8 1128.8,1223.9 1129.2,1210.7 1129.7,1222.4 1130.1,1235.7 1130.5,1231.8 1130.9,1236.9 1131.4,1236.2 1131.8,1214.1 1132.2,1228.4 1132.6,1219.0 1133.0,1230.5 1133.5,1224.0 1133.9,1232.1 1134.3,1217.6 1134.7,1226.3 1135.2,1228.0 1135.6,1226.0 1136.0,1208.4 1136.4,1221.7 1136.9,1218.9 1137.3,1234.9 1137.7,1230.6 1138.1,1223.6 1138.6,1240.1 1139.0,1216.0 1139.4,1224.3 1139.8,1226.7 1140.3,1228.2 1140.7,1228.7 1141.1,1230.9 1141.5,1216.7 1142.0,1222.3 1142.4,1218.2 1142.8,1230.1 1143.2,1234.7 1143.6,1217.9 1144.1,1237.6 1144.5,1233.2 1144.9,1223.4 1145.3,1220.8 1145.8,1239.1 1146.2,1231.4 1146.6,1229.3 1147.0,1230.7 1147.5,1236.3 1147.9,1225.0 1148.3,1234.2 1148.7,1232.2 1149.2,1247.5 1149.6,1231.6 1150.0,1245.5 1150.4,1225.8 1150.9,1227.6 1151.3,1235.3 1151.7,1230.4 1152.1,1231.0 1152.6,1233.1 1153.0,1229.4 1153.4,1233.2 1153.8,1236.0 1154.2,1238.6 1154.7,1220.2 1155.1,1231.5 1155.5,1233.3 1155.9,1227.9 1156.4,1236.4 1156.8,1236.5 1157.2,1228.8 1157.6,1226.3 1158.1,1229.1 1158.5,1245.4 1158.9,1234.1 1159.3,1234.9 1159.8,1231.5 1160.2,1241.6 1160.6,1243.0 1161.0,1236.2 1161.5,1242.2 1161.9,1243.6 1162.3,1236.4 1162.7,1229.2 1163.2,1235.2 1163.6,1228.1 1164.0,1244.0 1164.4,1231.5 1164.8,1237.0 1165.3,1243.6 1165.7,1240.4 1166.1,1243.8 1166.5,1239.2 1167.0,1243.3 1167.4,1228.6 1167.8,1240.8 1168.2,1248.8 1168.7,1239.9 1169.1,1235.8 1169.5,1241.1 1169.9,1232.6 1170.4,1245.9 1170.8,1245.6 1171.2,1227.5 1171.6,1239.6 1172.1,1235.8 1172.5,1236.3 1172.9,1235.9 1173.3,1240.0 1173.8,1241.9 1174.2,1232.7 1174.6,1244.4 1175.0,1240.2 1175.4,1236.2 1175.9,1244.2 1176.3,1252.7 1176.7,1238.3 1177.1,1233.9 1177.6,1240.1 1178.0,1254.4 1178.4,1237.6 1178.8,1228.1 1179.3,1253.9 1179.7,1262.5 1180.1,1244.7 1180.5,1242.6 1181.0,1237.6 1181.4,1237.5 1181.8,1242.9 1182.2,1239.8 1182.7,1241.4 1183.1,1243.1 1183.5,1244.6 1183.9,1245.5 1184.4,1239.4 1184.8,1241.7 1185.2,1247.9 1185.6,1237.1 1186.0,1250.4 1186.5,1246.9 1186.9,1244.5 1187.3,1259.3 1187.7,1248.5 1188.2,1239.8 1188.6,1240.2 1189.0,1254.8 1189.4,1252.4 1189.9,1254.3 1190.3,1248.4 1190.7,1247.3 1191.1,1258.5 1191.6,1244.9 1192.0,1246.9 1192.4,1248.1 1192.8,1252.5 1193.3,1249.2 1193.7,1260.8 1194.1,1246.6 1194.5,1246.9 1195.0,1249.3 1195.4,1257.2 1195.8,1239.8 1196.2,1241.1 1196.6,1262.7 1197.1,1246.5 1197.5,1248.6 1197.9,1268.2 1198.3,1246.4 1198.8,1245.6 1199.2,1245.3 1199.6,1249.5 1200.0,1255.5 1200.5,1254.7 1200.9,1247.6 1201.3,1243.1 1201.7,1255.1 1202.2,1253.9 1202.6,1247.2 1203.0,1267.6 1203.4,1249.4 1203.9,1254.4 1204.3,1268.5 1204.7,1247.8 1205.1,1260.0 1205.6,1248.2 1206.0,1244.3 1206.4,1263.0 1206.8,1262.9 1207.2,1254.8 1207.7,1267.3 1208.1,1250.1 1208.5,1254.2 1208.9,1248.9 1209.4,1268.9 1209.8,1254.9 1210.2,1253.3 1210.6,1269.4 1211.1,1250.8 1211.5,1267.0 1211.9,1256.3 1212.3,1267.1 1212.8,1252.6 1213.2,1246.5 1213.6,1258.2 1214.0,1258.7 1214.5,1250.1 1214.9,1262.6 1215.3,1259.4 1215.7,1254.2 1216.2,1257.3 1216.6,1249.5 1217.0,1252.4 1217.4,1247.5 1217.8,1261.3 1218.3,1253.6 1218.7,1267.3 1219.1,1255.6 1219.5,1249.9 1220.0,1246.0 1220.4,1271.2 1220.8,1264.0 1221.2,1258.1 1221.7,1269.4 1222.1,1259.7 1222.5,1260.0 1222.9,1267.3 1223.4,1267.9 1223.8,1270.8 1224.2,1262.6 1224.6,1256.1 1225.1,1263.1 1225.5,1246.2 1225.9,1275.8 1226.3,1269.8 1226.8,1261.4 1227.2,1274.2 1227.6,1264.1 1228.0,1261.1 1228.4,1265.7 1228.9,1268.7 1229.3,1260.9 1229.7,1264.7 1230.1,1262.8 1230.6,1264.3 1231.0,1272.9 1231.4,1276.1 1231.8,1271.3 1232.3,1267.7 1232.7,1270.4 1233.1,1262.8 1233.5,1267.8 1234.0,1263.1 1234.4,1269.2 1234.8,1275.2 1235.2,1264.6 1235.7,1267.2 1236.1,1276.7 1236.5,1273.9 1236.9,1252.1 1237.4,1294.8 1237.8,1264.0 1238.2,1271.6 1238.6,1272.7 1239.0,1274.5 1239.5,1276.2 1239.9,1256.6 1240.3,1276.1 1240.7,1275.4 1241.2,1268.0 1241.6,1271.1 1242.0,1275.2 1242.4,1276.2 1242.9,1283.5 1243.3,1267.2 1243.7,1282.1 1244.1,1291.7 1244.6,1268.1 1245.0,1270.4 1245.4,1273.4 1245.8,1279.5 1246.3,1268.0 1246.7,1283.8 1247.1,1291.6 1247.5,1275.7 1248.0,1271.5 1248.4,1273.0 1248.8,1263.3 1249.2,1272.0 1249.6,1279.5 1250.1,1279.5 1250.5,1272.3 1250.9,1279.0 1251.3,1279.7 1251.8,1291.1 1252.2,1281.4 1252.6,1288.3 1253.0,1278.1 1253.5,1279.0 1253.9,1275.2 1254.3,1268.1 1254.7,1281.8 1255.2,1270.9 1255.6,1288.7 1256.0,1280.1 1256.4,1274.9 1256.9,1268.3 1257.3,1289.3 1257.7,1283.8 1258.1,1281.3 1258.6,1283.2 1259.0,1289.2 1259.4,1294.0 1259.8,1291.5 1260.2,1283.9 1260.7,1292.7 1261.1,1271.7 1261.5,1275.6 1261.9,1297.1 1262.4,1287.7 1262.8,1275.6 1263.2,1275.0 1263.6,1277.5 1264.1,1295.0 1264.5,1288.0 1264.9,1277.0 1265.3,1285.2 1265.8,1289.2 1266.2,1282.9 1266.6,1279.9 1267.0,1285.8 1267.5,1285.3 1267.9,1279.9 1268.3,1291.2 1268.7,1293.8 1269.2,1282.6 1269.6,1296.1 1270.0,1284.9 1270.4,1293.4 1270.8,1283.0 1271.3,1296.9 1271.7,1281.5 1272.1,1287.4 1272.5,1291.6 1273.0,1295.6 1273.4,1291.0 1273.8,1296.4 1274.2,1298.5 1274.7,1283.4 1275.1,1286.8 1275.5,1282.8 1275.9,1300.3 1276.4,1304.6 1276.8,1302.3 1277.2,1287.6 1277.6,1286.8 1278.1,1304.8 1278.5,1285.8 1278.9,1295.7 1279.3,1301.1 1279.8,1293.8 1280.2,1289.7 1280.6,1295.2 1281.0,1295.1 1281.4,1299.8 1281.9,1303.9 1282.3,1297.1 1282.7,1305.7 1283.1,1291.1 1283.6,1301.0 1284.0,1286.8 1284.4,1306.3 1284.8,1286.6 1285.3,1302.1 1285.7,1302.3 1286.1,1294.7 1286.5,1290.9 1287.0,1297.3 1287.4,1299.7 1287.8,1284.3 1288.2,1294.3 1288.7,1305.9 1289.1,1299.9 1289.5,1287.2 1289.9,1296.4 1290.4,1293.3 1290.8,1285.6 1291.2,1303.1 1291.6,1297.0 1292.0,1304.0 1292.5,1299.9 1292.9,1296.5 1293.3,1309.1 1293.7,1299.5 1294.2,1299.7 1294.6,1293.9 1295.0,1305.0 1295.4,1309.7 1295.9,1298.9 1296.3,1309.1 1296.7,1300.7 1297.1,1298.3 1297.6,1308.0 1298.0,1303.3 1298.4,1309.5 1298.8,1321.5 1299.3,1312.6 1299.7,1317.0 1300.1,1303.3 1300.5,1310.7 1301.0,1304.8 1301.4,1304.4 1301.8,1297.3 1302.2,1306.7 1302.6,1307.2 1303.1,1301.5 1303.5,1294.4 1303.9,1305.7 1304.3,1303.1 1304.8,1306.8 1305.2,1310.3 1305.6,1315.9 1306.0,1306.6 1306.5,1308.0 1306.9,1308.0 1307.3,1293.7 1307.7,1308.9 1308.2,1304.8 1308.6,1309.4 1309.0,1299.6 1309.4,1309.3 1309.9,1295.5 1310.3,1309.5 1310.7,1302.9 1311.1,1301.5 1311.6,1309.8 1312.0,1302.9 1312.4,1308.2 1312.8,1313.7 1313.2,1313.3 1313.7,1307.0 1314.1,1297.8 1314.5,1312.6 1314.9,1306.1 1315.4,1315.0 1315.8,1308.3 1316.2,1318.5 1316.6,1315.4 1317.1,1310.5 1317.5,1315.4 1317.9,1312.5 1318.3,1304.4 1318.8,1311.9 1319.2,1315.8 1319.6,1319.3 1320.0,1315.0 1320.5,1304.3 1320.9,1312.4 1321.3,1312.9 1321.7,1307.5 1322.2,1306.9 1322.6,1306.0 1323.0,1314.9 1323.4,1318.6 1323.8,1323.6 1324.3,1317.4 1324.7,1315.5 1325.1,1308.6 1325.5,1311.4 1326.0,1317.2 1326.4,1308.1 1326.8,1321.9 1327.2,1320.7 1327.7,1321.6 1328.1,1321.2 1328.5,1316.0 1328.9,1319.9 1329.4,1319.5 1329.8,1306.3 1330.2,1324.3 1330.6,1321.6 1331.1,1316.7 1331.5,1312.5 1331.9,1312.4 1332.3,1317.3 1332.8,1318.0 1333.2,1317.5 1333.6,1311.2 1334.0,1321.9 1334.4,1331.1 1334.9,1315.2 1335.3,1323.9 1335.7,1317.0 1336.1,1307.9 1336.6,1316.2 1337.0,1305.3 1337.4,1327.1 1337.8,1315.7 1338.3,1314.8 1338.7,1312.2 1339.1,1322.2 1339.5,1316.7 1340.0,1317.0 1340.4,1317.3 1340.8,1326.7 1341.2,1329.0 1341.7,1314.8 1342.1,1316.2 1342.5,1318.3 1342.9,1314.6 1343.4,1311.9 1343.8,1326.2 1344.2,1314.0 1344.6,1309.7 1345.0,1312.7 1345.5,1315.6 1345.9,1315.0 1346.3,1328.6 1346.7,1322.7 1347.2,1313.3 1347.6,1310.5 1348.0,1317.0 1348.4,1322.9 1348.9,1321.0 1349.3,1314.9 1349.7,1307.7 1350.1,1315.5 1350.6,1323.9 1351.0,1316.8 1351.4,1318.1 1351.8,1305.9 1352.3,1317.3 1352.7,1320.9 1353.1,1321.7 1353.5,1329.1 1354.0,1328.1 1354.4,1324.6 1354.8,1326.8 1355.2,1320.6 1355.6,1321.3 1356.1,1316.2 1356.5,1312.7 1356.9,1321.3 1357.3,1323.6 1357.8,1334.1 1358.2,1320.3 1358.6,1318.6 1359.0,1327.7 1359.5,1325.4 1359.9,1327.5 1360.3,1316.6 1360.7,1319.5 1361.2,1315.9 1361.6,1331.1 1362.0,1307.2 1362.4,1329.1 1362.9,1330.3 1363.3,1322.9 1363.7,1327.6 1364.1,1313.1 1364.6,1327.0 1365.0,1328.8 1365.4,1318.7 1365.8,1317.3 1366.2,1330.2 1366.7,1328.1 1367.1,1327.5 1367.5,1326.4 1367.9,1314.9 1368.4,1317.9 1368.8,1319.2 1369.2,1318.1 1369.6,1326.0 1370.1,1320.8 1370.5,1326.8 1370.9,1331.1 1371.3,1316.4 1371.8,1337.6 1372.2,1326.9 1372.6,1330.7 1373.0,1337.5 1373.5,1329.8 1373.9,1327.2 1374.3,1324.9 1374.7,1333.0 1375.2,1323.4 1375.6,1326.3 1376.0,1323.4 1376.4,1340.4 1376.8,1331.5 1377.3,1332.7 1377.7,1325.6 1378.1,1333.8 1378.5,1332.6 1379.0,1336.6 1379.4,1337.1 1379.8,1335.7 1380.2,1324.3 1380.7,1336.9 1381.1,1345.5 1381.5,1329.0 1381.9,1333.7 1382.4,1327.8 1382.8,1328.1 1383.2,1333.4 1383.6,1334.3 1384.1,1335.3 1384.5,1332.1 1384.9,1337.0 1385.3,1331.3 1385.8,1324.3 1386.2,1336.9 1386.6,1336.8 1387.0,1337.1 1387.4,1329.7 1387.9,1329.6 1388.3,1325.1 1388.7,1329.6 1389.1,1333.3 1389.6,1331.5 1390.0,1342.3 1390.4,1331.2 1390.8,1333.7 1391.3,1322.4 1391.7,1326.8 1392.1,1340.3 1392.5,1338.9 1393.0,1330.3 1393.4,1348.2 1393.8,1341.5 1394.2,1333.9 1394.7,1332.4 1395.1,1335.3 1395.5,1329.6 1395.9,1338.4 1396.4,1336.3 1396.8,1338.2 1397.2,1343.7 1397.6,1337.1 1398.0,1340.8 1398.5,1337.1 1398.9,1353.4 1399.3,1337.2 1399.7,1341.3 1400.2,1341.9 1400.6,1338.0 1401.0,1341.3 1401.4,1333.1 1401.9,1331.3 1402.3,1333.6 1402.7,1333.2 1403.1,1336.9 1403.6,1339.0 1404.0,1347.0 1404.4,1341.7 1404.8,1332.4 1405.3,1335.2 1405.7,1342.8 1406.1,1339.4 1406.5,1333.8 1407.0,1341.2 1407.4,1330.7 1407.8,1345.0 1408.2,1335.9 1408.6,1336.6 1409.1,1339.8 1409.5,1339.2 1409.9,1337.9 1410.3,1354.7 1410.8,1338.6 1411.2,1334.7 1411.6,1339.2 1412.0,1335.0 1412.5,1348.8 1412.9,1342.3 1413.3,1340.1 1413.7,1343.7 1414.2,1335.3 1414.6,1339.6 1415.0,1345.6 1415.4,1337.9 1415.9,1338.0 1416.3,1345.5 1416.7,1339.3 1417.1,1340.9 1417.6,1341.2 1418.0,1350.8 1418.4,1336.0 1418.8,1339.8 1419.2,1343.9 1419.7,1341.8 1420.1,1342.0 1420.5,1345.9 1420.9,1347.7 1421.4,1343.8 1421.8,1348.0 1422.2,1347.5 1422.6,1351.6 1423.1,1346.5 1423.5,1339.1 1423.9,1343.9 1424.3,1345.0 1424.8,1347.3 1425.2,1348.0 1425.6,1354.4 1426.0,1336.1 1426.5,1350.2 1426.9,1354.8 1427.3,1343.8 1427.7,1344.8 1428.2,1349.5 1428.6,1355.2 1429.0,1354.7 1429.4,1337.7 1429.8,1347.6 1430.3,1350.9 1430.7,1336.3 1431.1,1350.5 1431.5,1352.8 1432.0,1344.4 1432.4,1345.6 1432.8,1338.7 1433.2,1357.0 1433.7,1346.4 1434.1,1358.0 1434.5,1345.6 1434.9,1352.2 1435.4,1351.2 1435.8,1353.0 1436.2,1343.9 1436.6,1339.5 1437.1,1349.6 1437.5,1350.7 1437.9,1352.2 1438.3,1346.4 1438.8,1355.5 1439.2,1329.2 1439.6,1351.2 1440.0,1340.0 1440.4,1349.2 1440.9,1358.1 1441.3,1359.4 1441.7,1352.9 1442.1,1354.7 1442.6,1352.2 1443.0,1357.5 1443.4,1337.5 1443.8,1338.8 1444.3,1361.7 1444.7,1348.6 1445.1,1344.6 1445.5,1353.6 1446.0,1353.1 1446.4,1345.6 1446.8,1349.0 1447.2,1359.2 1447.7,1345.3 1448.1,1355.3 1448.5,1341.9 1448.9,1358.3 1449.4,1366.1 1449.8,1352.4 1450.2,1346.2 1450.6,1350.3 1451.0,1352.6 1451.5,1358.9 1451.9,1348.5 1452.3,1364.5 1452.7,1349.5 1453.2,1361.1 1453.6,1357.8 1454.0,1362.1 1454.4,1359.9 1454.9,1346.3 1455.3,1361.7 1455.7,1354.0 1456.1,1359.9 1456.6,1349.5 1457.0,1363.4 1457.4,1355.7 1457.8,1350.7 1458.3,1343.0 1458.7,1362.9 1459.1,1361.3 1459.5,1356.7 1460.0,1348.1 1460.4,1362.6 1460.8,1352.2 1461.2,1360.6 1461.6,1363.1 1462.1,1366.4 1462.5,1356.7 1462.9,1351.9 1463.3,1358.3 1463.8,1370.0 1464.2,1361.2 1464.6,1352.6 1465.0,1353.3 1465.5,1356.8 1465.9,1350.1 1466.3,1365.9 1466.7,1365.8 1467.2,1345.2 1467.6,1355.2 1468.0,1360.3 1468.4,1362.0 1468.9,1374.0 1469.3,1354.7 1469.7,1371.4 1470.1,1370.9 1470.6,1360.1 1471.0,1351.3 1471.4,1362.2 1471.8,1357.9 1472.2,1362.7 1472.7,1358.0 1473.1,1369.9 1473.5,1348.5 1473.9,1366.0 1474.4,1357.4 1474.8,1372.4 1475.2,1350.7 1475.6,1358.4 1476.1,1349.6 1476.5,1364.8 1476.9,1355.2 1477.3,1362.2 1477.8,1361.6 1478.2,1354.0 1478.6,1366.6 1479.0,1357.3 1479.5,1350.5 1479.9,1351.7 1480.3,1355.7 1480.7,1359.9 1481.2,1367.4 1481.6,1353.8 1482.0,1365.9 1482.4,1355.3 1482.8,1364.0 1483.3,1362.2 1483.7,1362.3 1484.1,1358.9 1484.5,1364.9 1485.0,1361.5 1485.4,1365.6 1485.8,1359.7 1486.2,1361.1 1486.7,1360.4 1487.1,1367.7 1487.5,1361.1 1487.9,1362.8 1488.4,1359.8 1488.8,1362.9 1489.2,1368.8 1489.6,1359.3 1490.1,1367.2 1490.5,1361.9 1490.9,1375.3 1491.3,1360.8 1491.8,1360.0 1492.2,1369.0 1492.6,1360.6 1493.0,1366.1 1493.4,1356.3 1493.9,1360.4 1494.3,1371.3 1494.7,1365.5 1495.1,1374.4 1495.6,1366.3 1496.0,1361.5 1496.4,1360.0 1496.8,1365.4 1497.3,1366.2 1497.7,1364.0 1498.1,1368.4 1498.5,1363.2 1499.0,1358.9 1499.4,1364.1 1499.8,1360.5 1500.2,1369.8 1500.7,1368.2 1501.1,1363.6 1501.5,1354.3 1501.9,1360.0 1502.4,1356.2 1502.8,1365.6 1503.2,1359.0 1503.6,1375.4 1504.0,1363.2 1504.5,1377.8 1504.9,1359.4 1505.3,1363.6 1505.7,1359.9 1506.2,1364.2 1506.6,1369.3 1507.0,1370.7 1507.4,1365.6 1507.9,1358.4 1508.3,1363.4 1508.7,1369.9 1509.1,1370.2 1509.6,1371.0 1510.0,1368.4 1510.4,1367.8 1510.8,1370.0 1511.3,1367.4 1511.7,1376.3 1512.1,1359.0 1512.5,1366.3 1513.0,1359.3 1513.4,1366.3 1513.8,1369.0 1514.2,1367.5 1514.6,1366.9 1515.1,1371.8 1515.5,1370.3 1515.9,1357.8 1516.3,1363.2 1516.8,1371.3 1517.2,1365.7 1517.6,1373.2 1518.0,1361.0 1518.5,1374.3 1518.9,1363.9 1519.3,1368.8 1519.7,1368.8 1520.2,1373.5 1520.6,1370.6 1521.0,1373.4 1521.4,1374.0 1521.9,1366.8 1522.3,1355.6 1522.7,1371.4 1523.1,1364.1 1523.6,1369.7 1524.0,1373.7 1524.4,1362.5 1524.8,1366.4 1525.2,1363.7 1525.7,1369.4 1526.1,1369.3 1526.5,1374.7 1526.9,1371.7 1527.4,1361.1 1527.8,1382.8 1528.2,1368.3 1528.6,1362.5 1529.1,1366.2 1529.5,1365.8 1529.9,1372.2 1530.3,1364.6 1530.8,1364.5 1531.2,1371.1 1531.6,1361.8 1532.0,1373.7 1532.5,1384.6 1532.9,1371.2 1533.3,1371.9 1533.7,1375.9 1534.2,1373.9 1534.6,1374.4 1535.0,1381.5 1535.4,1364.9 1535.8,1371.6 1536.3,1357.1 1536.7,1371.9 1537.1,1369.7 1537.5,1380.1 1538.0,1366.5 1538.4,1378.0 1538.8,1369.2 1539.2,1367.2 1539.7,1368.1 1540.1,1376.8 1540.5,1376.7 1540.9,1368.3 1541.4,1366.1 1541.8,1364.7 1542.2,1372.8 1542.6,1373.3 1543.1,1363.1 1543.5,1376.0 1543.9,1368.8 1544.3,1374.7 1544.8,1380.7 1545.2,1379.1 1545.6,1370.7 1546.0,1372.0 1546.4,1370.6 1546.9,1375.3 1547.3,1376.1 1547.7,1372.0 1548.1,1374.5 1548.6,1382.3 1549.0,1376.0 1549.4,1364.6 1549.8,1377.9 1550.3,1370.9 1550.7,1374.4 1551.1,1370.1 1551.5,1378.7 1552.0,1381.0 1552.4,1371.8 1552.8,1378.0 1553.2,1374.5 1553.7,1376.1 1554.1,1369.3 1554.5,1373.1 1554.9,1373.8 1555.4,1379.8 1555.8,1383.1 1556.2,1379.2 1556.6,1370.3 1557.0,1371.1 1557.5,1371.8 1557.9,1377.1 1558.3,1380.5 1558.7,1368.9 1559.2,1374.1 1559.6,1372.3 1560.0,1380.3 1560.4,1379.0 1560.9,1371.9 1561.3,1371.5 1561.7,1380.8 1562.1,1374.0 1562.6,1381.8 1563.0,1369.1 1563.4,1372.2 1563.8,1363.7 1564.3,1367.8 1564.7,1379.4 1565.1,1374.9 1565.5,1378.5 1566.0,1375.3 1566.4,1372.0 1566.8,1376.2 1567.2,1375.9 1567.6,1383.4 1568.1,1373.3 1568.5,1376.5 1568.9,1373.2 1569.3,1371.0 1569.8,1376.4 1570.2,1373.0 1570.6,1379.9 1571.0,1371.8 1571.5,1377.0 1571.9,1380.1 1572.3,1378.2 1572.7,1384.6 1573.2,1380.5 1573.6,1379.4 1574.0,1377.1 1574.4,1377.8 1574.9,1380.8 1575.3,1378.4 1575.7,1388.8 1576.1,1377.1 1576.6,1374.7 1577.0,1373.6 1577.4,1372.1 1577.8,1378.9 1578.2,1378.4 1578.7,1380.5 1579.1,1380.6 1579.5,1377.5 1579.9,1371.1 1580.4,1387.2 1580.8,1380.9 1581.2,1377.0 1581.6,1383.7 1582.1,1376.4 1582.5,1385.8 1582.9,1380.5 1583.3,1387.4 1583.8,1377.4 1584.2,1383.0 1584.6,1375.6 1585.0,1380.6 1585.5,1384.2 1585.9,1381.4 1586.3,1378.7 1586.7,1379.5 1587.2,1380.8 1587.6,1381.4 1588.0,1379.6 1588.4,1375.3 1588.8,1382.7 1589.3,1377.5 1589.7,1386.8 1590.1,1375.2 1590.5,1378.1 1591.0,1381.9 1591.4,1381.9 1591.8,1389.1 1592.2,1379.8 1592.7,1381.6 1593.1,1387.7 1593.5,1382.8 1593.9,1377.6 1594.4,1379.7 1594.8,1379.3 1595.2,1383.7 1595.6,1376.5 1596.1,1381.0 1596.5,1376.6 1596.9,1369.6 1597.3,1391.5 1597.8,1383.8 1598.2,1381.2 1598.6,1385.1 1599.0,1376.0 1599.4,1383.2 1599.9,1372.9 1600.3,1377.7 1600.7,1379.4 1601.1,1381.8 1601.6,1377.4 1602.0,1379.3 1602.4,1374.3 1602.8,1379.8 1603.3,1376.7 1603.7,1380.0 1604.1,1380.4 1604.5,1390.2 1605.0,1382.2 1605.4,1380.3 1605.8,1388.4 1606.2,1389.6 1606.7,1384.1 1607.1,1381.1 1607.5,1391.4 1607.9,1381.1 1608.4,1377.9 1608.8,1384.1 1609.2,1381.7 1609.6,1380.6 1610.0,1386.5 1610.5,1380.0 1610.9,1380.9 1611.3,1389.6 1611.7,1380.7 1612.2,1378.9 1612.6,1389.0 1613.0,1379.1 1613.4,1385.0 1613.9,1390.6 1614.3,1389.1 1614.7,1388.4 1615.1,1381.1 1615.6,1386.4 1616.0,1386.0 1616.4,1390.6 1616.8,1384.1 1617.3,1390.6 1617.7,1387.7 1618.1,1381.2 1618.5,1381.0 1619.0,1387.2 1619.4,1384.8 1619.8,1381.9 1620.2,1384.8 1620.6,1378.6 1621.1,1378.0 1621.5,1385.4 1621.9,1391.3 1622.3,1385.8 1622.8,1378.2 1623.2,1379.4 1623.6,1379.2 1624.0,1379.6 1624.5,1388.0 1624.9,1384.0 1625.3,1380.0 1625.7,1384.2 1626.2,1381.1 1626.6,1390.8 1627.0,1391.9 1627.4,1375.5 1627.9,1381.9 1628.3,1382.8 1628.7,1378.5 1629.1,1374.7 1629.6,1371.4 1630.0,1398.4 1630.4,1384.3 1630.8,1381.0 1631.2,1396.1 1631.7,1395.5 1632.1,1387.4 1632.5,1376.9 1632.9,1381.8 1633.4,1375.7 1633.8,1385.3 1634.2,1381.4 1634.6,1379.1 1635.1,1384.6 1635.5,1387.1 1635.9,1386.5 1636.3,1406.0 1636.8,1385.6 1637.2,1396.9 1637.6,1391.6 1638.0,1383.9 1638.5,1385.6 1638.9,1397.9 1639.3,1385.1 1639.7,1384.0 1640.2,1386.9 1640.6,1384.5 1641.0,1385.1 1641.4,1396.8 1641.8,1389.3 1642.3,1389.8 1642.7,1394.5 1643.1,1388.7 1643.5,1392.6 1644.0,1389.0 1644.4,1393.0 1644.8,1383.4 1645.2,1377.5 1645.7,1391.8 1646.1,1388.7 1646.5,1388.7 1646.9,1386.8 1647.4,1390.0 1647.8,1400.5 1648.2,1387.5 1648.6,1390.0 1649.1,1394.9 1649.5,1390.5 1649.9,1392.2 1650.3,1388.5 1650.8,1391.4 1651.2,1391.2 1651.6,1389.4 1652.0,1388.7 1652.4,1390.0 1652.9,1384.2 1653.3,1388.9 1653.7,1394.1 1654.1,1381.6 1654.6,1389.8 1655.0,1382.5 1655.4,1395.9 1655.8,1387.7 1656.3,1382.0 1656.7,1384.3 1657.1,1390.3 1657.5,1393.8 1658.0,1394.0 1658.4,1391.9 1658.8,1395.9 1659.2,1394.9 1659.7,1396.2 1660.1,1396.3 1660.5,1390.1 1660.9,1400.3 1661.4,1390.6 1661.8,1388.0 1662.2,1396.3 1662.6,1396.2 1663.0,1391.6 1663.5,1392.0 1663.9,1387.0 1664.3,1401.9 1664.7,1392.3 1665.2,1385.0 1665.6,1391.6 1666.0,1383.2 1666.4,1381.2 1666.9,1395.0 1667.3,1384.8 1667.7,1389.7 1668.1,1392.5 1668.6,1393.9 1669.0,1393.6 1669.4,1397.1 1669.8,1393.5 1670.3,1388.0 1670.7,1386.4 1671.1,1394.7 1671.5,1390.2 1672.0,1390.5 1672.4,1404.8 1672.8,1389.4 1673.2,1399.2 1673.6,1398.9 1674.1,1389.0 1674.5,1384.9 1674.9,1398.8 1675.3,1397.8 1675.8,1398.1 1676.2,1396.1 1676.6,1395.4 1677.0,1397.7 1677.5,1401.8 1677.9,1384.8 1678.3,1396.2 1678.7,1397.6 1679.2,1389.4 1679.6,1395.7 1680.0,1388.5 1680.4,1390.1 1680.9,1389.1 1681.3,1396.1 1681.7,1391.0 1682.1,1401.9 1682.6,1401.1 1683.0,1393.9 1683.4,1395.8 1683.8,1387.7 1684.2,1395.7 1684.7,1403.2 1685.1,1394.2 1685.5,1396.0 1685.9,1393.6 1686.4,1400.4 1686.8,1398.5 1687.2,1394.3 1687.6,1391.0 1688.1,1392.7 1688.5,1391.0 1688.9,1402.0 1689.3,1395.9 1689.8,1393.8 1690.2,1390.1 1690.6,1393.6 1691.0,1396.2 1691.5,1395.6 1691.9,1395.5 1692.3,1402.2 1692.7,1395.0 1693.2,1391.2 1693.6,1391.7 1694.0,1404.4 1694.4,1395.3 1694.8,1402.7 1695.3,1389.9 1695.7,1392.7 1696.1,1391.9 1696.5,1398.7 1697.0,1405.0 1697.4,1400.7 1697.8,1397.3 1698.2,1403.0 1698.7,1400.6 1699.1,1387.0 1699.5,1402.2 1699.9,1393.0 1700.4,1405.0 1700.8,1394.5 1701.2,1391.7 1701.6,1393.6 1702.1,1389.9 1702.5,1387.1 1702.9,1402.8 1703.3,1394.7 1703.8,1393.4 1704.2,1393.9 1704.6,1388.2 1705.0,1394.7 1705.4,1390.2 1705.9,1390.4 1706.3,1395.4 1706.7,1393.5 1707.1,1399.9 1707.6,1394.6 1708.0,1395.3 1708.4,1397.0 1708.8,1398.5 1709.3,1391.5 1709.7,1396.9 1710.1,1385.1 1710.5,1389.9 1711.0,1392.6 1711.4,1399.3 1711.8,1392.0 1712.2,1395.8 1712.7,1396.0 1713.1,1401.9 1713.5,1393.7 1713.9,1395.3 1714.4,1398.8 1714.8,1399.9 1715.2,1398.0 1715.6,1403.1 1716.0,1399.4 1716.5,1389.9 1716.9,1399.9 1717.3,1385.4 1717.7,1403.3 1718.2,1391.5 1718.6,1391.5 1719.0,1391.2 1719.4,1394.1 1719.9,1404.8 1720.3,1391.3 1720.7,1391.7 1721.1,1396.8 1721.6,1408.6 1722.0,1391.8 1722.4,1401.6 1722.8,1398.5 1723.3,1391.1 1723.7,1390.7 1724.1,1395.3 1724.5,1400.0 1725.0,1388.9 1725.4,1391.7 1725.8,1398.1 1726.2,1402.1 1726.6,1396.0 1727.1,1404.1 1727.5,1388.8 1727.9,1395.0 1728.3,1399.3 1728.8,1395.6 1729.2,1405.8 1729.6,1398.0 1730.0,1400.8 1730.5,1405.5 1730.9,1400.9 1731.3,1396.1 1731.7,1404.9 1732.2,1398.9 1732.6,1405.1 1733.0,1397.0 1733.4,1406.6 1733.9,1394.5 1734.3,1394.8 1734.7,1394.0 1735.1,1389.3 1735.6,1397.3 1736.0,1397.6 1736.4,1395.3 1736.8,1400.5 1737.2,1407.6 1737.7,1404.3 1738.1,1404.3 1738.5,1397.4 1738.9,1401.5 1739.4,1400.4 1739.8,1395.7 1740.2,1397.6 1740.6,1388.7 1741.1,1398.8 1741.5,1403.2 1741.9,1392.4 1742.3,1400.7 1742.8,1399.0 1743.2,1393.8 1743.6,1397.8 1744.0,1395.3 1744.5,1401.8 1744.9,1400.2 1745.3,1395.6 1745.7,1401.4 1746.2,1400.7 1746.6,1399.0 1747.0,1391.0 1747.4,1391.6 1747.8,1397.7 1748.3,1398.5 1748.7,1402.2 1749.1,1392.4 1749.5,1396.8 1750.0,1394.2 1750.4,1405.7 1750.8,1394.9 1751.2,1398.1 1751.7,1395.2 1752.1,1393.8 1752.5,1398.8 1752.9,1400.7 1753.4,1395.6 1753.8,1404.8 1754.2,1392.0 1754.6,1397.3 1755.1,1404.4 1755.5,1392.7 1755.9,1394.3 1756.3,1391.5 1756.8,1394.1 1757.2,1396.6 1757.6,1399.2 1758.0,1404.2 1758.4,1395.4 1758.9,1396.2 1759.3,1401.1 1759.7,1396.2 1760.1,1403.4 1760.6,1394.0 1761.0,1398.4 1761.4,1398.0 1761.8,1402.7 1762.3,1394.6 1762.7,1398.4 1763.1,1402.1 1763.5,1397.4 1764.0,1400.3 1764.4,1394.3 1764.8,1406.8 1765.2,1405.0 1765.7,1389.6 1766.1,1401.9 1766.5,1397.1 1766.9,1401.5 1767.4,1398.5 1767.8,1386.8 1768.2,1409.2 1768.6,1397.0 1769.0,1399.4 1769.5,1399.5 1769.9,1403.5 1770.3,1404.3 1770.7,1393.1 1771.2,1397.3 1771.6,1405.6 1772.0,1399.8 1772.4,1406.3 1772.9,1385.9 1773.3,1398.1 1773.7,1408.7 1774.1,1395.4 1774.6,1396.9 1775.0,1398.5 1775.4,1399.1 1775.8,1402.7 1776.3,1401.0 1776.7,1409.9 1777.1,1393.8 1777.5,1390.4 1778.0,1397.7 1778.4,1397.2 1778.8,1406.8 1779.2,1402.3 1779.6,1407.1 1780.1,1406.6 1780.5,1397.7 1780.9,1393.5 1781.3,1400.7 1781.8,1388.3 1782.2,1396.4 1782.6,1411.4 1783.0,1402.4 1783.5,1394.1 1783.9,1399.7 1784.3,1395.5 1784.7,1408.7 1785.2,1394.4 1785.6,1406.3 1786.0,1399.0 1786.4,1390.4 1786.9,1400.3 1787.3,1401.8 1787.7,1397.0 1788.1,1404.8 1788.6,1405.4 1789.0,1396.0 1789.4,1408.0 1789.8,1406.9 1790.2,1392.3 1790.7,1406.9 1791.1,1398.8 1791.5,1395.6 1791.9,1401.2 1792.4,1406.1 1792.8,1397.0 1793.2,1405.6 1793.6,1390.8 1794.1,1390.4 1794.5,1406.1 1794.9,1398.3 1795.3,1404.6 1795.8,1399.3 1796.2,1402.4 1796.6,1406.0 1797.0,1398.8 1797.5,1409.3 1797.9,1399.8 1798.3,1402.1 1798.7,1405.2 1799.2,1397.0 1799.6,1401.2 1800.0,1403.1 1800.4,1402.3 1800.8,1402.6 1801.3,1397.0 1801.7,1403.0 1802.1,1415.6 1802.5,1416.6 1803.0,1406.7 1803.4,1407.8 1803.8,1403.0 1804.2,1408.3 1804.7,1405.7 1805.1,1395.4 1805.5,1408.3 1805.9,1397.7 1806.4,1402.4 1806.8,1395.6 1807.2,1397.6 1807.6,1401.6 1808.1,1396.7 1808.5,1400.8 1808.9,1407.4 1809.3,1399.6 1809.8,1399.5 1810.2,1402.5 1810.6,1400.7 1811.0,1404.1 1811.4,1400.4 1811.9,1403.4 1812.3,1409.5 1812.7,1403.4 1813.1,1394.4 1813.6,1398.1 1814.0,1394.9 1814.4,1402.2 1814.8,1404.2 1815.3,1407.4 1815.7,1401.5 1816.1,1397.4 1816.5,1398.4 1817.0,1398.8 1817.4,1404.8 1817.8,1401.9 1818.2,1406.2 1818.7,1398.5 1819.1,1399.6 1819.5,1405.6 1819.9,1402.0 1820.4,1413.5 1820.8,1399.3 1821.2,1406.6 1821.6,1404.5 1822.0,1399.9 1822.5,1399.6 1822.9,1406.1 1823.3,1395.2 1823.7,1393.2 1824.2,1396.0 1824.6,1396.7 1825.0,1402.7 1825.4,1396.4 1825.9,1407.3 1826.3,1408.4 1826.7,1402.4 1827.1,1401.9 1827.6,1407.3 1828.0,1394.7 1828.4,1410.3 1828.8,1413.2 1829.3,1405.3 1829.7,1395.5 1830.1,1399.8 1830.5,1401.8 1831.0,1402.8 1831.4,1400.8 1831.8,1402.0 1832.2,1403.1 1832.6,1404.2 1833.1,1411.4 1833.5,1399.1 1833.9,1405.8 1834.3,1402.0 1834.8,1401.5 1835.2,1398.9 1835.6,1407.7 1836.0,1400.0 1836.5,1399.9 1836.9,1404.5 1837.3,1404.3 1837.7,1403.4 1838.2,1409.0 1838.6,1406.3 1839.0,1409.6 1839.4,1398.6 1839.9,1408.0 1840.3,1409.4 1840.7,1403.6 1841.1,1401.8 1841.6,1406.2 1842.0,1409.0 1842.4,1402.5 1842.8,1400.5 1843.2,1412.4 1843.7,1400.3 1844.1,1413.1 1844.5,1401.6 1844.9,1406.8 1845.4,1406.0 1845.8,1401.4 1846.2,1398.0 1846.6,1395.0 1847.1,1398.4 1847.5,1401.7 1847.9,1411.3 1848.3,1406.9 1848.8,1404.4 1849.2,1407.9 1849.6,1402.3 1850.0,1406.3 1850.5,1396.7 1850.9,1406.1 1851.3,1411.3 1851.7,1407.7 1852.2,1408.7 1852.6,1402.0 1853.0,1398.8 1853.4,1400.6 1853.8,1400.6 1854.3,1408.7 1854.7,1410.7 1855.1,1409.3 1855.5,1405.4 1856.0,1407.2 1856.4,1404.3 1856.8,1400.8 1857.2,1405.3 1857.7,1397.6 1858.1,1409.4 1858.5,1402.7 1858.9,1406.0 1859.4,1401.0 1859.8,1406.0 1860.2,1408.3 1860.6,1406.5 1861.1,1410.1 1861.5,1411.1 1861.9,1402.2 1862.3,1408.8 1862.8,1400.3 1863.2,1394.2 1863.6,1407.9 1864.0,1402.0 1864.4,1406.5 1864.9,1415.1 1865.3,1406.7 1865.7,1399.3 1866.1,1412.0 1866.6,1407.1 1867.0,1407.2 1867.4,1413.2 1867.8,1405.0 1868.3,1407.2 1868.7,1403.8 1869.1,1406.3 1869.5,1413.2 1870.0,1406.0 1870.4,1403.7 1870.8,1407.8 1871.2,1404.0 1871.7,1404.2 1872.1,1416.9 1872.5,1403.9 1872.9,1416.4 1873.4,1413.0 1873.8,1407.6 1874.2,1411.6 1874.6,1410.8 1875.0,1401.8 1875.5,1412.1 1875.9,1401.5 1876.3,1398.6 1876.7,1400.6 1877.2,1412.4 1877.6,1414.5 1878.0,1407.0 1878.4,1397.3 1878.9,1408.3 1879.3,1410.0 1879.7,1408.0 1880.1,1403.9 1880.6,1401.8 1881.0,1407.5 1881.4,1408.1 1881.8,1405.1 1882.3,1407.4 1882.7,1409.5 1883.1,1415.9 1883.5,1407.0 1884.0,1410.5 1884.4,1408.8 1884.8,1409.1 1885.2,1411.8 1885.6,1405.1 1886.1,1402.7 1886.5,1405.3 1886.9,1410.8 1887.3,1407.0 1887.8,1404.5 1888.2,1408.3 1888.6,1404.6 1889.0,1414.5 1889.5,1408.9 1889.9,1401.2 1890.3,1403.3 1890.7,1408.5 1891.2,1407.4 1891.6,1397.9 1892.0,1402.9 1892.4,1411.3 1892.9,1406.6 1893.3,1410.2 1893.7,1410.8 1894.1,1413.7 1894.6,1404.7 1895.0,1397.7 1895.4,1404.1 1895.8,1414.2 1896.2,1405.6 1896.7,1415.0 1897.1,1407.1 1897.5,1403.2 1897.9,1401.2 1898.4,1407.6 1898.8,1406.7 1899.2,1408.2 1899.6,1409.0 1900.1,1400.9 1900.5,1412.7 1900.9,1415.7 1901.3,1400.1 1901.8,1397.7 1902.2,1415.8 1902.6,1404.0 1903.0,1404.6 1903.5,1410.4 1903.9,1412.9 1904.3,1407.7 1904.7,1410.0 1905.2,1404.7 1905.6,1411.4 1906.0,1403.0 1906.4,1411.5 1906.8,1400.9 1907.3,1404.4 1907.7,1403.3 1908.1,1410.4 1908.5,1409.7 1909.0,1409.1 1909.4,1403.1 1909.8,1411.8 1910.2,1412.4 1910.7,1409.8 1911.1,1407.1 1911.5,1409.1 1911.9,1409.1 1912.4,1414.9 1912.8,1411.7 1913.2,1413.9 1913.6,1404.0 1914.1,1409.1 1914.5,1405.8 1914.9,1415.1 1915.3,1409.1 1915.8,1407.3 1916.2,1413.9 1916.6,1412.1 1917.0,1411.5 1917.4,1408.4 1917.9,1407.8 1918.3,1415.7 1918.7,1407.6 1919.1,1408.2 1919.6,1407.8 1920.0,1413.3 1920.4,1409.6 1920.8,1403.3 1921.3,1404.0 1921.7,1412.2 1922.1,1401.9 1922.5,1411.3 1923.0,1413.6 1923.4,1404.2 1923.8,1407.9 1924.2,1398.8 1924.7,1410.6 1925.1,1408.9 1925.5,1406.1 1925.9,1408.3 1926.4,1411.4 1926.8,1409.6 1927.2,1409.7 1927.6,1409.7 1928.0,1409.8 1928.5,1416.8 1928.9,1405.6 1929.3,1412.6 1929.7,1410.9 1930.2,1413.5 1930.6,1410.8 1931.0,1405.3 1931.4,1404.0 1931.9,1408.4 1932.3,1409.2 1932.7,1412.4 1933.1,1411.3 1933.6,1408.9 1934.0,1410.7 1934.4,1414.6 1934.8,1409.8 1935.3,1414.9 1935.7,1400.5 1936.1,1408.7 1936.5,1412.8 1937.0,1408.1 1937.4,1413.7 1937.8,1411.4 1938.2,1403.1 1938.6,1404.4 1939.1,1415.8 1939.5,1415.6 1939.9,1412.8 1940.3,1400.0 1940.8,1410.2 1941.2,1409.3 1941.6,1412.9 1942.0,1404.4 1942.5,1406.1 1942.9,1418.6 1943.3,1414.6 1943.7,1419.1 1944.2,1416.1 1944.6,1414.5 1945.0,1416.9 1945.4,1413.7 1945.9,1407.6 1946.3,1405.7 1946.7,1410.4 1947.1,1407.6 1947.6,1417.2 1948.0,1404.2 1948.4,1400.4 1948.8,1411.7 1949.2,1408.4 1949.7,1409.5 1950.1,1421.2 1950.5,1406.5 1950.9,1409.0 1951.4,1418.7 1951.8,1413.2 1952.2,1406.0 1952.6,1408.7 1953.1,1417.7 1953.5,1414.0 1953.9,1414.6 1954.3,1410.8 1954.8,1414.7 1955.2,1411.3 1955.6,1412.4 1956.0,1418.4 1956.5,1409.8 1956.9,1410.5 1957.3,1414.9 1957.7,1408.3 1958.2,1401.2 1958.6,1419.1 1959.0,1410.8 1959.4,1408.0 1959.8,1411.7 1960.3,1414.6 1960.7,1401.8 1961.1,1414.3 1961.5,1412.6 1962.0,1415.1 1962.4,1406.5 1962.8,1422.0 1963.2,1416.3 1963.7,1414.3 1964.1,1410.8 1964.5,1410.7 1964.9,1407.7 1965.4,1412.9 1965.8,1415.7 1966.2,1412.7 1966.6,1416.4 1967.1,1414.9 1967.5,1414.7 1967.9,1411.1 1968.3,1408.7 1968.8,1417.6 1969.2,1415.4 1969.6,1412.8 1970.0,1412.6 1970.4,1413.9 1970.9,1410.1 1971.3,1413.8 1971.7,1420.8 1972.1,1406.8 1972.6,1418.6 1973.0,1405.4 1973.4,1411.8 1973.8,1411.5 1974.3,1419.7 1974.7,1411.8 1975.1,1414.0 1975.5,1417.0 1976.0,1410.6 1976.4,1409.8 1976.8,1407.8 1977.2,1418.8 1977.7,1416.9 1978.1,1407.0 1978.5,1411.0 1978.9,1409.7 1979.4,1415.8 1979.8,1411.8 1980.2,1409.7 1980.6,1419.0 1981.0,1416.6 1981.5,1412.4 1981.9,1407.3 1982.3,1415.5 1982.7,1410.6 1983.2,1417.4 1983.6,1419.0 1984.0,1410.9 1984.4,1418.3 1984.9,1413.6 1985.3,1416.3 1985.7,1411.5 1986.1,1419.5 1986.6,1420.2 1987.0,1420.3 1987.4,1414.9 1987.8,1408.2 1988.3,1410.3 1988.7,1413.2 1989.1,1414.7 1989.5,1408.7 1990.0,1414.6 1990.4,1409.5 1990.8,1408.2 1991.2,1411.2 1991.6,1412.5 1992.1,1412.6 1992.5,1414.8 1992.9,1413.2 1993.3,1418.4 1993.8,1418.3 1994.2,1407.5 1994.6,1415.1 1995.0,1422.2 1995.5,1408.6 1995.9,1408.6 1996.3,1412.7 1996.7,1420.2 1997.2,1406.1 1997.6,1410.0 1998.0,1409.3 1998.4,1416.0 1998.9,1413.0 1999.3,1416.1 1999.7,1416.0 2000.1,1420.2 2000.6,1418.5 2001.0,1417.3 2001.4,1414.9 2001.8,1410.7 2002.2,1412.7 2002.7,1423.2 2003.1,1410.6 2003.5,1422.0 2003.9,1413.1 2004.4,1416.2 2004.8,1415.1 2005.2,1417.5 2005.6,1420.1 2006.1,1408.2 2006.5,1426.4 2006.9,1419.5 2007.3,1409.7 2007.8,1415.6 2008.2,1415.6 2008.6,1419.5 2009.0,1420.7 2009.5,1413.1 2009.9,1416.5 2010.3,1414.3 2010.7,1412.4 2011.2,1423.5 2011.6,1420.5 2012.0,1418.9 2012.4,1415.0 2012.8,1412.9 2013.3,1420.6 2013.7,1417.0 2014.1,1416.6 2014.5,1416.6 2015.0,1409.2 2015.4,1419.5 2015.8,1415.5 2016.2,1426.6 2016.7,1416.8 2017.1,1415.8 2017.5,1413.2 2017.9,1418.6 2018.4,1418.9 2018.8,1421.8 2019.2,1418.7 2019.6,1405.9 2020.1,1424.2 2020.5,1424.1 2020.9,1416.1 2021.3,1420.8 2021.8,1411.1 2022.2,1423.4 2022.6,1409.3 2023.0,1418.7 2023.4,1424.1 2023.9,1426.7 2024.3,1420.8 2024.7,1419.7 2025.1,1415.2 2025.6,1422.7 2026.0,1403.3 2026.4,1413.2 2026.8,1417.8 2027.3,1419.5 2027.7,1405.0 2028.1,1420.5 2028.5,1413.7 2029.0,1410.5 2029.4,1421.3 2029.8,1414.5 2030.2,1419.4 2030.7,1411.0 2031.1,1410.7 2031.5,1414.8 2031.9,1416.5 2032.4,1422.7 2032.8,1406.4 2033.2,1410.6 2033.6,1414.1 2034.0,1410.7 2034.5,1417.3 2034.9,1422.5 2035.3,1413.3 2035.7,1421.8 2036.2,1419.9 2036.6,1414.2 2037.0,1424.6 2037.4,1417.5 2037.9,1419.0 2038.3,1422.9 2038.7,1423.2 2039.1,1418.7 2039.6,1419.1 2040.0,1417.1 2040.4,1424.6 2040.8,1417.5 2041.3,1423.6 2041.7,1421.6 2042.1,1413.7 2042.5,1421.1 2043.0,1420.3 2043.4,1421.7 2043.8,1418.2 2044.2,1414.4 2044.6,1419.8 2045.1,1415.3 2045.5,1424.1 2045.9,1416.2 2046.3,1418.8 2046.8,1418.1 2047.2,1422.5 2047.6,1421.2 2048.0,1417.1 2048.5,1423.8 2048.9,1415.1 2049.3,1420.5 2049.7,1416.6 2050.2,1423.7 2050.6,1425.9 2051.0,1415.9 2051.4,1415.7 2051.9,1419.0 2052.3,1415.9 2052.7,1418.9 2053.1,1416.0 2053.6,1418.3 2054.0,1423.3 2054.4,1414.1 2054.8,1423.3 2055.2,1409.1 2055.7,1419.8 2056.1,1423.3 2056.5,1420.1 2056.9,1418.9 2057.4,1418.6 2057.8,1416.8 2058.2,1422.0 2058.6,1428.5 2059.1,1423.2 2059.5,1417.5 2059.9,1414.5 2060.3,1428.3 2060.8,1419.1 2061.2,1414.6 2061.6,1425.8 2062.0,1412.1 2062.5,1423.1 2062.9,1420.2 2063.3,1421.9 2063.7,1411.9 2064.2,1415.8 2064.6,1419.3 2065.0,1421.5 2065.4,1427.4 2065.8,1421.3 2066.3,1422.7 2066.7,1420.6 2067.1,1428.6 2067.5,1414.6 2068.0,1416.2 2068.4,1413.2 2068.8,1422.9 2069.2,1420.5 2069.7,1425.8 2070.1,1416.5 2070.5,1421.5 2070.9,1413.1 2071.4,1417.3 2071.8,1417.2 2072.2,1418.2 2072.6,1427.2 2073.1,1417.5 2073.5,1427.9 2073.9,1419.5 2074.3,1418.3 2074.8,1426.0 2075.2,1423.8 2075.6,1421.8 2076.0,1419.9 2076.4,1419.8 2076.9,1421.0 2077.3,1425.1 2077.7,1420.0 2078.1,1410.3 2078.6,1423.9 2079.0,1414.4 2079.4,1426.7 2079.8,1424.3 2080.3,1415.7 2080.7,1417.9 2081.1,1414.6 2081.5,1419.1 2082.0,1424.4 2082.4,1421.5 2082.8,1423.8 2083.2,1417.3 2083.7,1419.3 2084.1,1416.5 2084.5,1425.1 2084.9,1423.2 2085.4,1424.0 2085.8,1423.8 2086.2,1423.0 2086.6,1416.7 2087.0,1421.7 2087.5,1417.2 2087.9,1421.5 2088.3,1430.3 2088.7,1428.6 2089.2,1423.4 2089.6,1417.6 2090.0,1422.6 2090.4,1429.2 2090.9,1422.2 2091.3,1423.9 2091.7,1420.3 2092.1,1419.3 2092.6,1421.7 2093.0,1425.8 2093.4,1427.6 2093.8,1424.7 2094.3,1423.5 2094.7,1421.6 2095.1,1425.2 2095.5,1426.0 2096.0,1421.2 2096.4,1419.8 2096.8,1422.2 2097.2,1427.9 2097.6,1424.8 2098.1,1414.1 2098.5,1428.2 2098.9,1425.2 2099.3,1419.7 2099.8,1427.9 2100.2,1425.1 2100.6,1418.2 2101.0,1419.6 2101.5,1431.7 2101.9,1421.3 2102.3,1425.4 2102.7,1430.0 2103.2,1419.4 2103.6,1426.4 2104.0,1424.3 2104.4,1427.9 2104.9,1420.8 2105.3,1420.3 2105.7,1420.8 2106.1,1413.9 2106.6,1421.6 2107.0,1425.7 2107.4,1422.0 2107.8,1422.8 2108.2,1421.1 2108.7,1434.5 2109.1,1420.5 2109.5,1415.5 2109.9,1420.4 2110.4,1426.9 2110.8,1414.9 2111.2,1420.8 2111.6,1415.2 2112.1,1419.8 2112.5,1425.3 2112.9,1431.0 2113.3,1423.5 2113.8,1421.7 2114.2,1425.7 2114.6,1429.7 2115.0,1420.4 2115.5,1427.2 2115.9,1418.0 2116.3,1426.5 2116.7,1422.5 2117.2,1425.5 2117.6,1422.4 2118.0,1421.9 2118.4,1433.3 2118.8,1427.2 2119.3,1426.8 2119.7,1426.9 2120.1,1424.8 2120.5,1419.6 2121.0,1428.9 2121.4,1422.2 2121.8,1426.3 2122.2,1427.7 2122.7,1431.1 2123.1,1428.1 2123.5,1429.5 2123.9,1422.9 2124.4,1418.4 2124.8,1422.6 2125.2,1421.8 2125.6,1428.5 2126.1,1422.1 2126.5,1428.7 2126.9,1429.1 2127.3,1424.1 2127.8,1427.9 2128.2,1422.6 2128.6,1424.6 2129.0,1426.4 2129.4,1427.8 2129.9,1424.5 2130.3,1424.3 2130.7,1425.1 2131.1,1420.7 2131.6,1427.9 2132.0,1431.4 2132.4,1431.1 2132.8,1429.7 2133.3,1429.5 2133.7,1426.2 2134.1,1418.7 2134.5,1430.0 2135.0,1429.3 2135.4,1428.0 2135.8,1429.9 2136.2,1429.0 2136.7,1422.8 2137.1,1420.4 2137.5,1428.9 2137.9,1426.2 2138.4,1422.0 2138.8,1424.6 2139.2,1426.8 2139.6,1424.5 2140.0,1426.5 2140.5,1428.9 2140.9,1424.0 2141.3,1428.8 2141.7,1428.3 2142.2,1424.9 2142.6,1431.1 2143.0,1423.3 2143.4,1429.3 2143.9,1430.4 2144.3,1424.1 2144.7,1423.6 2145.1,1422.4 2145.6,1420.9 2146.0,1430.6 2146.4,1427.6 2146.8,1431.0 2147.3,1429.7 2147.7,1423.0 2148.1,1425.4 2148.5,1425.6 2149.0,1425.0 2149.4,1428.5 2149.8,1421.5 2150.2,1431.0 2150.6,1424.1 2151.1,1429.3 2151.5,1430.7 2151.9,1418.6 2152.3,1428.5 2152.8,1424.2 2153.2,1430.3 2153.6,1430.1 2154.0,1422.2 2154.5,1425.4 2154.9,1426.9 2155.3,1425.3 2155.7,1424.7 2156.2,1423.7 2156.6,1425.3 2157.0,1424.5 2157.4,1426.0 2157.9,1426.8 2158.3,1422.8 2158.7,1436.4 2159.1,1424.0 2159.6,1427.4 2160.0,1426.7 2160.4,1428.6 2160.8,1430.5 2161.2,1425.1 2161.7,1432.6 2162.1,1431.8 2162.5,1431.8 2162.9,1421.0 2163.4,1427.8 2163.8,1427.9 2164.2,1433.7 2164.6,1427.6 2165.1,1424.5 2165.5,1432.5 2165.9,1427.8 2166.3,1427.2 2166.8,1425.6 2167.2,1424.1 2167.6,1420.0 2168.0,1428.2 2168.5,1428.1 2168.9,1430.9 2169.3,1424.3 2169.7,1428.4 2170.2,1426.4 2170.6,1425.5 2171.0,1429.0"/>
<polyline fill="none" stroke="#000000" stroke-width="3" stroke-linejoin="round" shape-rendering="crispEdges" points="369.0,1498.2 369.4,1497.3 369.8,1498.2 370.3,1501.3 370.7,1497.0 371.1,1497.8 371.5,1499.6 372.0,1497.3 372.4,1497.5 372.8,1497.5 373.2,1497.9 373.7,1496.6 374.1,1499.0 374.5,1497.6 374.9,1498.0 375.4,1495.6 375.8,1496.4 376.2,1496.8 376.6,1497.6 377.1,1496.1 377.5,1495.2 377.9,1495.5 378.3,1491.7 378.8,1492.0 379.2,1499.7 379.6,1497.5 380.0,1493.3 380.4,1493.4 380.9,1491.6 381.3,1491.1 381.7,1486.2 382.1,1493.2 382.6,1491.0 383.0,1484.8 383.4,1487.6 383.8,1487.0 384.3,1489.3 384.7,1491.6 385.1,1486.5 385.5,1486.1 386.0,1488.9 386.4,1487.0 386.8,1484.8 387.2,1486.5 387.7,1483.6 388.1,1482.5 388.5,1482.0 388.9,1482.9 389.4,1479.2 389.8,1477.8 390.2,1478.7 390.6,1481.2 391.0,1476.1 391.5,1478.9 391.9,1474.3 392.3,1479.2 392.7,1472.8 393.2,1474.8 393.6,1477.7 394.0,1474.3 394.4,1472.5 394.9,1471.1 395.3,1474.2 395.7,1473.9 396.1,1469.1 396.6,1470.5 397.0,1467.5 397.4,1465.0 397.8,1471.8 398.3,1464.7 398.7,1460.5 399.1,1464.4 399.5,1465.0 400.0,1458.5 400.4,1458.9 400.8,1455.4 401.2,1458.4 401.6,1461.0 402.1,1454.8 402.5,1454.6 402.9,1448.7 403.3,1449.3 403.8,1454.6 404.2,1451.5 404.6,1442.1 405.0,1441.3 405.5,1444.9 405.9,1440.8 406.3,1437.5 406.7,1435.9 407.2,1432.6 407.6,1433.6 408.0,1433.5 408.4,1432.7 408.9,1425.7 409.3,1438.1 409.7,1427.6 410.1,1425.4 410.6,1430.1 411.0,1420.9 411.4,1423.6 411.8,1415.3 412.2,1418.1 412.7,1412.8 413.1,1408.6 413.5,1410.6 413.9,1414.7 414.4,1415.9 414.8,1398.7 415.2,1405.6 415.6,1406.4 416.1,1400.5 416.5,1400.0 416.9,1392.8 417.3,1394.6 417.8,1392.4 418.2,1393.7 418.6,1385.2 419.0,1390.3 419.5,1378.9 419.9,1371.7 420.3,1385.0 420.7,1387.4 421.2,1368.0 421.6,1354.6 422.0,1371.1 422.4,1369.7 422.8,1356.6 423.3,1361.8 423.7,1357.0 424.1,1353.3 424.5,1345.4 425.0,1348.1 425.4,1341.3 425.8,1341.3 426.2,1342.7 426.7,1337.0 427.1,1338.4 427.5,1330.1 427.9,1334.8 428.4,1332.3 428.8,1314.2 429.2,1321.5 429.6,1319.3 430.1,1313.6 430.5,1317.4 430.9,1314.1 431.3,1307.8 431.8,1306.6 432.2,1313.8 432.6,1298.7 433.0,1305.8 433.4,1306.7 433.9,1303.5 434.3,1297.8 434.7,1281.9 435.1,1298.3 435.6,1286.8 436.0,1299.9 436.4,1282.6 436.8,1273.6 437.3,1278.5 437.7,1278.2 438.1,1268.9 438.5,1262.3 439.0,1259.2 439.4,1246.3 439.8,1255.4 440.2,1257.6 440.7,1250.6 441.1,1246.6 441.5,1241.6 441.9,1239.0 442.4,1233.8 442.8,1244.2 443.2,1221.7 443.6,1228.9 444.0,1230.1 444.5,1212.8 444.9,1204.2 445.3,1207.4 445.7,1206.9 446.2,1212.4 446.6,1179.3 447.0,1192.0 447.4,1205.1 447.9,1199.3 448.3,1189.3 448.7,1199.6 449.1,1182.5 449.6,1184.6 450.0,1167.6 450.4,1166.6 450.8,1193.8 451.3,1167.6 451.7,1178.2 452.1,1151.8 452.5,1156.1 453.0,1149.3 453.4,1159.4 453.8,1130.8 454.2,1125.3 454.6,1148.2 455.1,1131.9 455.5,1137.3 455.9,1127.8 456.3,1135.0 456.8,1103.4 457.2,1125.0 457.6,1115.3 458.0,1104.5 458.5,1111.2 458.9,1103.9 459.3,1103.3 459.7,1095.8 460.2,1101.7 460.6,1091.3 461.0,1085.5 461.4,1083.0 461.9,1075.6 462.3,1075.1 462.7,1061.4 463.1,1067.6 463.6,1061.9 464.0,1062.9 464.4,1057.6 464.8,1060.6 465.2,1039.2 465.7,1051.2 466.1,1043.1 466.5,1028.0 466.9,1023.2 467.4,1026.8 467.8,1038.5 468.2,1009.7 468.6,1006.7 469.1,1018.9 469.5,992.0 469.9,1002.0 470.3,1001.4 470.8,983.9 471.2,981.6 471.6,972.5 472.0,986.3 472.5,945.4 472.9,965.7 473.3,970.6 473.7,942.7 474.2,948.1 474.6,936.0 475.0,938.4 475.4,930.7 475.8,922.9 476.3,929.4 476.7,909.6 477.1,918.2 477.5,918.6 478.0,904.4 478.4,896.5 478.8,900.3 479.2,903.8 479.7,883.7 480.1,906.9 480.5,895.3 480.9,879.9 481.4,892.4 481.8,873.4 482.2,871.1 482.6,857.0 483.1,874.5 483.5,868.0 483.9,853.9 484.3,882.8 484.8,815.6 485.2,856.2 485.6,853.4 486.0,831.8 486.4,839.0 486.9,856.0 487.3,824.6 487.7,818.6 488.1,830.6 488.6,825.2 489.0,812.6 489.4,825.6 489.8,806.0 490.3,805.1 490.7,811.8 491.1,816.5 491.5,798.7 492.0,802.7 492.4,776.2 492.8,782.6 493.2,771.0 493.7,775.1 494.1,769.8 494.5,778.8 494.9,757.5 495.4,740.3 495.8,762.6 496.2,762.9 496.6,754.4 497.0,755.5 497.5,755.3 497.9,742.0 498.3,744.6 498.7,720.3 499.2,735.5 499.6,728.8 500.0,718.3 500.4,731.4 500.9,707.1 501.3,730.6 501.7,730.4 502.1,722.4 502.6,716.8 503.0,730.7 503.4,711.1 503.8,729.5 504.3,688.3 504.7,704.7 505.1,709.5 505.5,710.7 506.0,701.7 506.4,697.4 506.8,705.6 507.2,701.7 507.6,689.9 508.1,691.8 508.5,670.6 508.9,665.6 509.3,677.6 509.8,669.3 510.2,690.3 510.6,662.2 511.0,668.5 511.5,659.4 511.9,642.4 512.3,690.8 512.7,655.2 513.2,670.8 513.6,646.4 514.0,669.2 514.4,656.4 514.9,645.2 515.3,637.8 515.7,643.0 516.1,652.6 516.6,647.8 517.0,627.1 517.4,637.4 517.8,658.2 518.2,623.4 518.7,627.8 519.1,620.7 519.5,635.8 519.9,619.3 520.4,643.6 520.8,621.0 521.2,634.3 521.6,618.1 522.1,613.0 522.5,635.5 522.9,625.7 523.3,623.8 523.8,607.9 524.2,613.6 524.6,638.8 525.0,615.8 525.5,611.3 525.9,592.2 526.3,642.4 526.7,626.5 527.2,600.8 527.6,636.0 528.0,633.2 528.4,609.4 528.8,601.8 529.3,623.5 529.7,606.4 530.1,611.1 530.5,591.3 531.0,610.7 531.4,596.4 531.8,620.8 532.2,610.1 532.7,607.8 533.1,590.1 533.5,596.6 533.9,613.4 534.4,593.0 534.8,590.7 535.2,601.6 535.6,602.5 536.1,600.6 536.5,619.8 536.9,593.3 537.3,591.7 537.8,605.6 538.2,582.8 538.6,610.6 539.0,598.6 539.4,596.6 539.9,562.2 540.3,610.1 540.7,579.8 541.1,573.7 541.6,580.5 542.0,568.6 542.4,597.5 542.8,614.1 543.3,571.6 543.7,597.6 544.1,584.8 544.5,595.7 545.0,564.3 545.4,566.0 545.8,586.9 546.2,563.8 546.7,573.8 547.1,576.5 547.5,573.1 547.9,575.9 548.4,563.9 548.8,567.3 549.2,575.7 549.6,556.3 550.0,577.8 550.5,564.8 550.9,562.3 551.3,547.1 551.7,573.8 552.2,542.2 552.6,563.2 553.0,567.7 553.4,573.7 553.9,555.8 554.3,562.7 554.7,578.0 555.1,577.8 555.6,569.4 556.0,570.5 556.4,545.6 556.8,541.2 557.3,547.7 557.7,554.2 558.1,564.6 558.5,557.4 559.0,545.4 559.4,527.7 559.8,544.0 560.2,560.0 560.6,555.0 561.1,561.7 561.5,565.3 561.9,556.5 562.3,550.6 562.8,527.3 563.2,551.4 563.6,532.7 564.0,526.4 564.5,549.2 564.9,527.4 565.3,539.1 565.7,554.2 566.2,544.1 566.6,546.8 567.0,549.8 567.4,548.6 567.9,543.2 568.3,538.5 568.7,556.2 569.1,543.4 569.6,563.8 570.0,538.3 570.4,532.6 570.8,538.3 571.2,535.9 571.7,531.0 572.1,547.9 572.5,541.2 572.9,530.1 573.4,522.5 573.8,530.3 574.2,499.4 574.6,535.7 575.1,519.7 575.5,515.3 575.9,534.2 576.3,543.1 576.8,547.5 577.2,527.9 577.6,513.9 578.0,524.9 578.5,525.6 578.9,532.6 579.3,518.6 579.7,555.8 580.2,521.8 580.6,523.9 581.0,542.9 581.4,492.2 581.8,541.6 582.3,536.5 582.7,537.5 583.1,504.2 583.5,531.6 584.0,508.9 584.4,509.3 584.8,513.2 585.2,534.5 585.7,524.0 586.1,490.9 586.5,532.0 586.9,524.8 587.4,514.5 587.8,500.0 588.2,507.1 588.6,499.4 589.1,524.3 589.5,494.9 589.9,499.5 590.3,529.4 590.8,484.1 591.2,472.6 591.6,515.3 592.0,502.8 592.4,482.9 592.9,523.0 593.3,529.5 593.7,518.8 594.1,507.6 594.6,506.9 595.0,489.2 595.4,493.2 595.8,513.9 596.3,487.2 596.7,467.7 597.1,476.5 597.5,478.6 598.0,491.6 598.4,477.0 598.8,504.0 599.2,478.6 599.7,489.7 600.1,471.4 600.5,480.0 600.9,501.4 601.4,483.1 601.8,466.5 602.2,499.4 602.6,490.3 603.0,492.4 603.5,502.0 603.9,465.7 604.3,459.8 604.7,466.2 605.2,473.4 605.6,476.7 606.0,471.6 606.4,484.7 606.9,460.3 607.3,457.2 607.7,457.9 608.1,478.1 608.6,468.4 609.0,471.0 609.4,441.8 609.8,464.1 610.3,493.0 610.7,459.1 611.1,436.6 611.5,453.0 612.0,449.2 612.4,460.5 612.8,488.6 613.2,485.3 613.6,476.2 614.1,458.9 614.5,451.6 614.9,445.1 615.3,459.1 615.8,439.2 616.2,456.2 616.6,461.4 617.0,437.7 617.5,462.5 617.9,488.0 618.3,462.6 618.7,444.7 619.2,490.1 619.6,449.3 620.0,447.9 620.4,462.9 620.9,462.7 621.3,446.8 621.7,447.0 622.1,419.5 622.6,431.5 623.0,459.1 623.4,447.5 623.8,423.5 624.2,405.0 624.7,426.2 625.1,426.3 625.5,402.4 625.9,429.1 626.4,432.3 626.8,447.6 627.2,433.3 627.6,392.6 628.1,444.7 628.5,422.5 628.9,442.4 629.3,418.7 629.8,406.4 630.2,422.1 630.6,406.6 631.0,405.7 631.5,408.7 631.9,388.8 632.3,401.6 632.7,416.6 633.2,421.1 633.6,422.4 634.0,401.7 634.4,412.5 634.8,366.0 635.3,378.1 635.7,407.6 636.1,408.3 636.5,377.1 637.0,429.3 637.4,406.8 637.8,384.8 638.2,411.6 638.7,404.0 639.1,401.1 639.5,384.9 639.9,391.6 640.4,386.6 640.8,382.7 641.2,390.1 641.6,372.8 642.1,399.4 642.5,409.0 642.9,413.1 643.3,409.8 643.8,392.7 644.2,367.9 644.6,379.8 645.0,390.5 645.4,396.6 645.9,387.5 646.3,384.7 646.7,386.2 647.1,398.4 647.6,383.1 648.0,359.7 648.4,407.0 648.8,376.9 649.3,404.4 649.7,368.7 650.1,381.9 650.5,401.2 651.0,367.3 651.4,340.4 651.8,365.4 652.2,348.6 652.7,366.4 653.1,397.2 653.5,356.2 653.9,369.1 654.4,384.1 654.8,349.2 655.2,355.9 655.6,367.4 656.0,345.5 656.5,371.1 656.9,347.3 657.3,370.6 657.7,347.4 658.2,371.5 658.6,331.3 659.0,349.4 659.4,330.7 659.9,364.4 660.3,358.4 660.7,337.6 661.1,391.6 661.6,365.4 662.0,332.7 662.4,340.7 662.8,332.3 663.3,351.4 663.7,337.4 664.1,356.6 664.5,365.9 665.0,370.3 665.4,352.2 665.8,351.7 666.2,352.4 666.6,396.5 667.1,372.2 667.5,349.3 667.9,336.2 668.3,349.0 668.8,353.0 669.2,374.5 669.6,307.6 670.0,355.0 670.5,311.8 670.9,313.2 671.3,332.5 671.7,345.0 672.2,333.7 672.6,353.0 673.0,330.9 673.4,334.4 673.9,325.8 674.3,319.0 674.7,306.5 675.1,338.7 675.6,316.3 676.0,344.1 676.4,345.2 676.8,340.6 677.2,345.8 677.7,315.2 678.1,299.2 678.5,278.3 678.9,285.3 679.4,324.6 679.8,337.4 680.2,345.8 680.6,320.9 681.1,323.3 681.5,344.1 681.9,317.8 682.3,353.3 682.8,328.9 683.2,335.5 683.6,333.6 684.0,341.9 684.5,310.2 684.9,315.8 685.3,305.9 685.7,321.8 686.2,343.5 686.6,329.0 687.0,341.2 687.4,315.6 687.8,303.7 688.3,317.0 688.7,331.0 689.1,327.1 689.5,317.9 690.0,343.1 690.4,318.2 690.8,317.1 691.2,328.3 691.7,326.0 692.1,316.7 692.5,331.7 692.9,331.5 693.4,306.4 693.8,314.8 694.2,292.0 694.6,333.0 695.1,345.0 695.5,302.8 695.9,302.3 696.3,328.3 696.8,339.5 697.2,317.3 697.6,343.5 698.0,321.6 698.4,349.9 698.9,319.7 699.3,348.8 699.7,319.6 700.1,292.3 700.6,319.9 701.0,303.8 701.4,325.7 701.8,329.5 702.3,338.9 702.7,299.7 703.1,316.8 703.5,290.8 704.0,334.3 704.4,319.6 704.8,315.0 705.2,294.6 705.7,288.4 706.1,326.8 706.5,334.5 706.9,344.0 707.4,296.6 707.8,318.9 708.2,327.8 708.6,318.8 709.0,357.8 709.5,345.2 709.9,304.3 710.3,313.0 710.7,317.0 711.2,335.1 711.6,310.9 712.0,292.8 712.4,339.5 712.9,320.7 713.3,327.9 713.7,316.0 714.1,321.7 714.6,324.5 715.0,336.2 715.4,323.2 715.8,332.7 716.3,325.9 716.7,325.0 717.1,314.3 717.5,333.8 718.0,330.2 718.4,309.2 718.8,329.7 719.2,330.9 719.6,314.2 720.1,324.0 720.5,327.5 720.9,326.2 721.3,349.4 721.8,324.0 722.2,311.5 722.6,323.8 723.0,357.4 723.5,330.0 723.9,349.1 724.3,339.6 724.7,335.0 725.2,356.2 725.6,318.3 726.0,340.8 726.4,328.5 726.9,331.9 727.3,321.9 727.7,325.2 728.1,366.9 728.6,344.6 729.0,378.8 729.4,353.9 729.8,337.1 730.2,334.9 730.7,330.0 731.1,356.3 731.5,346.5 731.9,350.7 732.4,333.8 732.8,329.7 733.2,360.2 733.6,298.0 734.1,356.5 734.5,362.8 734.9,349.0 735.3,347.4 735.8,351.5 736.2,370.5 736.6,339.1 737.0,361.5 737.5,339.9 737.9,343.0 738.3,384.2 738.7,380.7 739.2,381.8 739.6,363.8 740.0,367.7 740.4,365.3 740.8,382.6 741.3,364.8 741.7,350.9 742.1,393.3 742.5,377.0 743.0,371.3 743.4,377.9 743.8,380.0 744.2,351.3 744.7,359.7 745.1,367.2 745.5,392.5 745.9,348.4 746.4,377.8 746.8,393.0 747.2,390.5 747.6,393.9 748.1,355.9 748.5,385.8 748.9,389.2 749.3,423.6 749.8,381.5 750.2,409.6 750.6,412.0 751.0,387.2 751.4,410.5 751.9,386.5 752.3,383.5 752.7,428.2 753.1,404.9 753.6,427.7 754.0,406.5 754.4,393.3 754.8,428.5 755.3,382.8 755.7,415.5 756.1,429.8 756.5,415.5 757.0,403.2 757.4,436.7 757.8,417.6 758.2,439.3 758.7,402.5 759.1,419.3 759.5,429.3 759.9,409.0 760.4,444.7 760.8,432.8 761.2,401.2 761.6,431.6 762.0,411.2 762.5,429.6 762.9,444.2 763.3,438.9 763.7,435.5 764.2,444.0 764.6,451.5 765.0,452.2 765.4,463.9 765.9,442.0 766.3,439.2 766.7,435.4 767.1,474.1 767.6,437.4 768.0,450.8 768.4,472.8 768.8,451.9 769.3,442.9 769.7,448.5 770.1,447.0 770.5,445.1 771.0,447.3 771.4,462.2 771.8,493.2 772.2,475.5 772.6,460.7 773.1,474.0 773.5,458.7 773.9,458.5 774.3,470.8 774.8,445.8 775.2,488.4 775.6,462.3 776.0,483.9 776.5,489.8 776.9,471.5 777.3,490.2 777.7,470.5 778.2,500.9 778.6,485.1 779.0,499.1 779.4,491.8 779.9,495.1 780.3,507.4 780.7,483.3 781.1,511.8 781.6,509.4 782.0,484.1 782.4,484.3 782.8,490.0 783.2,496.0 783.7,469.8 784.1,520.8 784.5,515.5 784.9,520.4 785.4,494.9 785.8,504.9 786.2,494.6 786.6,497.9 787.1,516.2 787.5,525.9 787.9,529.7 788.3,485.8 788.8,504.7 789.2,511.4 789.6,525.9 790.0,525.2 790.5,528.6 790.9,529.7 791.3,560.3 791.7,528.7 792.2,534.5 792.6,526.5 793.0,528.9 793.4,521.3 793.8,534.7 794.3,524.7 794.7,573.0 795.1,553.9 795.5,515.8 796.0,558.2 796.4,546.4 796.8,534.0 797.2,557.4 797.7,536.4 798.1,567.6 798.5,575.6 798.9,568.8 799.4,574.6 799.8,553.1 800.2,558.6 800.6,550.9 801.1,571.0 801.5,522.8 801.9,560.5 802.3,561.1 802.8,555.4 803.2,566.3 803.6,572.8 804.0,564.2 804.4,553.9 804.9,558.6 805.3,556.0 805.7,577.8 806.1,581.9 806.6,544.9 807.0,576.8 807.4,568.1 807.8,565.7 808.3,557.5 808.7,596.5 809.1,585.7 809.5,586.1 810.0,585.4 810.4,615.3 810.8,584.7 811.2,623.9 811.7,581.4 812.1,579.2 812.5,579.4 812.9,605.0 813.4,576.6 813.8,602.4 814.2,608.3 814.6,606.0 815.0,605.1 815.5,592.3 815.9,584.4 816.3,625.1 816.7,604.9 817.2,586.3 817.6,596.8 818.0,593.6 818.4,621.7 818.9,589.5 819.3,624.4 819.7,601.6 820.1,586.8 820.6,580.7 821.0,600.1 821.4,596.1 821.8,617.0 822.3,616.2 822.7,595.0 823.1,611.6 823.5,614.2 824.0,632.3 824.4,612.3 824.8,606.5 825.2,626.7 825.6,623.8 826.1,596.7 826.5,616.4 826.9,623.5 827.3,635.7 827.8,629.7 828.2,625.6 828.6,604.8 829.0,632.1 829.5,600.9 829.9,638.1 830.3,631.3 830.7,616.2 831.2,631.5 831.6,640.2 832.0,631.7 832.4,624.9 832.9,654.5 833.3,635.8 833.7,634.8 834.1,639.6 834.6,625.3 835.0,643.4 835.4,641.5 835.8,637.1 836.2,628.7 836.7,642.1 837.1,620.0 837.5,652.9 837.9,624.7 838.4,653.8 838.8,645.5 839.2,639.4 839.6,617.9 840.1,634.0 840.5,651.9 840.9,630.3 841.3,651.0 841.8,659.4 842.2,643.9 842.6,649.4 843.0,638.9 843.5,659.4 843.9,648.0 844.3,645.4 844.7,650.9 845.2,655.7 845.6,665.3 846.0,645.1 846.4,655.9 846.8,651.9 847.3,663.8 847.7,659.8 848.1,674.3 848.5,660.4 849.0,652.2 849.4,661.8 849.8,652.5 850.2,660.4 850.7,647.4 851.1,668.4 851.5,688.0 851.9,661.8 852.4,670.3 852.8,681.5 853.2,661.1 853.6,666.9 854.1,665.2 854.5,676.0 854.9,669.9 855.3,669.8 855.8,650.8 856.2,683.4 856.6,675.4 857.0,671.2 857.4,698.9 857.9,698.0 858.3,649.9 858.7,701.5 859.1,671.8 859.6,690.9 860.0,690.5 860.4,706.8 860.8,693.5 861.3,672.4 861.7,701.1 862.1,676.1 862.5,680.4 863.0,659.1 863.4,691.8 863.8,670.0 864.2,675.5 864.7,691.2 865.1,709.5 865.5,669.3 865.9,706.9 866.4,696.0 866.8,679.2 867.2,676.8 867.6,702.5 868.0,692.7 868.5,696.2 868.9,678.3 869.3,661.9 869.7,718.0 870.2,683.5 870.6,732.3 871.0,696.2 871.4,711.1 871.9,672.0 872.3,695.9 872.7,708.0 873.1,705.6 873.6,707.1 874.0,697.9 874.4,702.9 874.8,693.1 875.3,682.4 875.7,693.7 876.1,718.8 876.5,724.4 877.0,713.9 877.4,691.5 877.8,709.7 878.2,714.5 878.6,704.9 879.1,725.2 879.5,722.2 879.9,701.9 880.3,712.8 880.8,715.3 881.2,706.1 881.6,718.1 882.0,720.0 882.5,717.7 882.9,704.8 883.3,712.3 883.7,728.8 884.2,718.1 884.6,706.7 885.0,691.9 885.4,730.6 885.9,712.5 886.3,720.6 886.7,707.6 887.1,713.0 887.6,700.7 888.0,713.4 888.4,727.4 888.8,728.0 889.2,716.7 889.7,717.5 890.1,692.9 890.5,702.7 890.9,739.1 891.4,720.6 891.8,742.4 892.2,747.1 892.6,717.6 893.1,720.7 893.5,741.3 893.9,708.3 894.3,741.8 894.8,744.8 895.2,722.6 895.6,728.6 896.0,734.0 896.5,733.5 896.9,730.5 897.3,735.6 897.7,736.6 898.2,758.8 898.6,752.4 899.0,728.7 899.4,745.7 899.8,730.7 900.3,722.7 900.7,743.0 901.1,735.7 901.5,713.9 902.0,731.7 902.4,717.9 902.8,722.3 903.2,732.6 903.7,743.8 904.1,753.4 904.5,757.3 904.9,737.9 905.4,738.7 905.8,747.1 906.2,734.9 906.6,753.4 907.1,732.7 907.5,746.4 907.9,747.8 908.3,747.9 908.8,749.5 909.2,718.0 909.6,769.2 910.0,747.5 910.4,734.8 910.9,741.7 911.3,754.8 911.7,730.0 912.1,765.2 912.6,768.5 913.0,745.8 913.4,771.2 913.8,783.0 914.3,743.2 914.7,745.2 915.1,746.0 915.5,761.4 916.0,753.6 916.4,768.1 916.8,735.3 917.2,747.3 917.7,748.4 918.1,781.9 918.5,748.4 918.9,740.3 919.4,744.2 919.8,749.8 920.2,759.9 920.6,764.5 921.0,753.3 921.5,756.4 921.9,758.6 922.3,765.7 922.7,741.7 923.2,777.0 923.6,763.4 924.0,770.6 924.4,751.2 924.9,746.7 925.3,749.4 925.7,755.8 926.1,782.6 926.6,740.3 927.0,759.8 927.4,767.9 927.8,766.6 928.3,771.4 928.7,762.5 929.1,764.2 929.5,772.8 930.0,800.2 930.4,769.6 930.8,763.7 931.2,763.5 931.6,772.1 932.1,765.1 932.5,758.4 932.9,777.1 933.3,753.8 933.8,795.9 934.2,787.8 934.6,783.8 935.0,802.9 935.5,785.6 935.9,758.6 936.3,759.0 936.7,773.3 937.2,753.9 937.6,772.3 938.0,781.6 938.4,772.9 938.9,777.9 939.3,767.6 939.7,795.1 940.1,765.1 940.6,783.1 941.0,767.5 941.4,796.9 941.8,783.6 942.2,777.9 942.7,768.2 943.1,794.3 943.5,759.6 943.9,774.3 944.4,786.9 944.8,766.1 945.2,779.9 945.6,767.4 946.1,753.7 946.5,772.8 946.9,788.8 947.3,787.9 947.8,776.1 948.2,780.0 948.6,793.8 949.0,792.2 949.5,776.4 949.9,756.4 950.3,816.9 950.7,776.7 951.2,788.3 951.6,776.7 952.0,776.0 952.4,786.1 952.8,799.4 953.3,804.3 953.7,810.4 954.1,773.4 954.5,791.0 955.0,795.3 955.4,792.5 955.8,805.6 956.2,786.2 956.7,774.3 957.1,776.9 957.5,809.8 957.9,774.9 958.4,800.8 958.8,815.0 959.2,807.1 959.6,804.3 960.1,793.2 960.5,805.8 960.9,811.9 961.3,797.4 961.8,771.5 962.2,803.3 962.6,789.7 963.0,794.7 963.4,764.1 963.9,819.1 964.3,783.6 964.7,812.5 965.1,804.6 965.6,799.0 966.0,760.0 966.4,807.7 966.8,821.5 967.3,783.7 967.7,809.7 968.1,802.9 968.5,800.6 969.0,799.5 969.4,803.0 969.8,798.2 970.2,797.1 970.7,791.8 971.1,807.5 971.5,811.6 971.9,815.7 972.4,796.3 972.8,804.2 973.2,797.4 973.6,797.9 974.0,784.5 974.5,802.5 974.9,796.3 975.3,819.9 975.7,818.7 976.2,809.9 976.6,820.9 977.0,798.5 977.4,822.8 977.9,806.4 978.3,836.8 978.7,820.9 979.1,812.1 979.6,811.4 980.0,829.9 980.4,807.5 980.8,797.5 981.3,801.6 981.7,817.4 982.1,816.8 982.5,824.1 983.0,802.8 983.4,793.4 983.8,817.0 984.2,831.1 984.6,808.8 985.1,803.0 985.5,844.0 985.9,810.3 986.3,786.5 986.8,802.6 987.2,806.0 987.6,808.0 988.0,800.4 988.5,824.4 988.9,823.4 989.3,808.8 989.7,822.0 990.2,811.0 990.6,836.9 991.0,805.5 991.4,804.7 991.9,814.4 992.3,813.1 992.7,796.1 993.1,828.3 993.6,826.5 994.0,828.8 994.4,821.1 994.8,828.2 995.2,816.0 995.7,824.4 996.1,834.0 996.5,835.4 996.9,802.9 997.4,818.3 997.8,820.3 998.2,817.5 998.6,819.0 999.1,809.3 999.5,811.8 999.9,825.6 1000.3,828.5 1000.8,831.8 1001.2,833.9 1001.6,802.8 1002.0,830.3 1002.5,843.5 1002.9,829.9 1003.3,829.4 1003.7,816.4 1004.2,830.9 1004.6,814.3 1005.0,816.3 1005.4,806.1 1005.8,795.7 1006.3,787.8 1006.7,805.6 1007.1,835.4 1007.5,826.7 1008.0,819.2 1008.4,797.9 1008.8,814.4 1009.2,808.4 1009.7,824.8 1010.1,816.0 1010.5,814.6 1010.9,828.6 1011.4,814.3 1011.8,811.0 1012.2,825.6 1012.6,811.9 1013.1,804.7 1013.5,823.5 1013.9,824.4 1014.3,828.2 1014.8,832.0 1015.2,823.1 1015.6,829.9 1016.0,828.9 1016.4,834.5 1016.9,843.6 1017.3,836.7 1017.7,822.0 1018.1,839.9 1018.6,833.8 1019.0,807.1 1019.4,813.3 1019.8,834.8 1020.3,819.7 1020.7,834.6 1021.1,808.0 1021.5,834.2 1022.0,826.5 1022.4,811.4 1022.8,837.5 1023.2,812.7 1023.7,837.7 1024.1,825.5 1024.5,831.9 1024.9,829.6 1025.4,826.9 1025.8,829.8 1026.2,841.0 1026.6,819.1 1027.0,821.0 1027.5,814.5 1027.9,813.5 1028.3,845.7 1028.7,815.1 1029.2,815.1 1029.6,836.7 1030.0,818.5 1030.4,813.6 1030.9,837.3 1031.3,847.3 1031.7,835.5 1032.1,798.8 1032.6,828.9 1033.0,846.1 1033.4,835.0 1033.8,843.8 1034.3,837.1 1034.7,831.5 1035.1,862.7 1035.5,828.7 1036.0,816.6 1036.4,835.6 1036.8,838.0 1037.2,820.9 1037.6,848.6 1038.1,848.6 1038.5,850.4 1038.9,836.2 1039.3,830.0 1039.8,835.8 1040.2,828.5 1040.6,825.4 1041.0,829.5 1041.5,844.9 1041.9,838.8 1042.3,821.3 1042.7,848.2 1043.2,839.1 1043.6,841.2 1044.0,838.6 1044.4,849.2 1044.9,852.6 1045.3,807.3 1045.7,826.2 1046.1,845.7 1046.6,838.2 1047.0,829.8 1047.4,841.9 1047.8,830.9 1048.2,845.3 1048.7,842.5 1049.1,839.5 1049.5,844.0 1049.9,867.3 1050.4,838.7 1050.8,836.1 1051.2,833.7 1051.6,851.0 1052.1,835.6 1052.5,837.2 1052.9,860.4 1053.3,865.6 1053.8,834.6 1054.2,851.4 1054.6,828.8 1055.0,815.7 1055.5,847.5 1055.9,848.8 1056.3,841.1 1056.7,833.3 1057.2,854.4 1057.6,826.9 1058.0,830.0 1058.4,833.9 1058.8,848.0 1059.3,831.2 1059.7,832.0 1060.1,856.0 1060.5,818.0 1061.0,845.8 1061.4,838.2 1061.8,848.7 1062.2,838.2 1062.7,829.4 1063.1,852.3 1063.5,862.3 1063.9,848.4 1064.4,858.4 1064.8,852.2 1065.2,845.0 1065.6,844.4 1066.1,828.8 1066.5,855.7 1066.9,839.9 1067.3,850.0 1067.8,828.4 1068.2,815.1 1068.6,841.0 1069.0,825.2 1069.4,850.9 1069.9,863.3 1070.3,859.7 1070.7,863.3 1071.1,856.2 1071.6,848.1 1072.0,832.1 1072.4,837.4 1072.8,840.3 1073.3,850.7 1073.7,854.3 1074.1,845.6 1074.5,844.5 1075.0,843.3 1075.4,842.1 1075.8,847.9 1076.2,868.9 1076.7,859.7 1077.1,856.4 1077.5,827.4 1077.9,852.1 1078.4,839.5 1078.8,830.5 1079.2,843.7 1079.6,852.2 1080.0,851.2 1080.5,859.7 1080.9,844.5 1081.3,835.1 1081.7,841.7 1082.2,839.5 1082.6,840.2 1083.0,825.5 1083.4,856.1 1083.9,847.1 1084.3,840.9 1084.7,834.7 1085.1,877.3 1085.6,855.4 1086.0,851.9 1086.4,861.5 1086.8,840.0 1087.3,847.4 1087.7,854.6 1088.1,869.0 1088.5,865.5 1089.0,861.8 1089.4,845.3 1089.8,864.7 1090.2,874.6 1090.6,867.7 1091.1,857.9 1091.5,831.9 1091.9,822.5 1092.3,857.0 1092.8,840.7 1093.2,835.5 1093.6,837.0 1094.0,853.3 1094.5,867.1 1094.9,857.8 1095.3,873.8 1095.7,849.7 1096.2,843.7 1096.6,874.5 1097.0,853.5 1097.4,849.7 1097.9,838.8 1098.3,837.4 1098.7,844.2 1099.1,861.5 1099.6,858.0 1100.0,840.0 1100.4,861.0 1100.8,854.6 1101.2,836.4 1101.7,853.0 1102.1,870.4 1102.5,858.1 1102.9,847.6 1103.4,857.2 1103.8,841.9 1104.2,840.6 1104.6,863.0 1105.1,861.4 1105.5,857.0 1105.9,869.7 1106.3,851.8 1106.8,858.3 1107.2,847.4 1107.6,863.4 1108.0,866.8 1108.5,835.8 1108.9,867.1 1109.3,863.9 1109.7,865.7 1110.2,861.0 1110.6,868.1 1111.0,858.3 1111.4,866.0 1111.8,862.9 1112.3,854.1 1112.7,850.4 1113.1,853.2 1113.5,867.2 1114.0,854.4 1114.4,860.5 1114.8,860.5 1115.2,879.1 1115.7,851.9 1116.1,861.4 1116.5,840.4 1116.9,852.8 1117.4,873.1 1117.8,876.2 1118.2,847.5 1118.6,870.8 1119.1,853.1 1119.5,864.6 1119.9,837.3 1120.3,860.6 1120.8,844.4 1121.2,846.6 1121.6,867.3 1122.0,866.0 1122.4,845.4 1122.9,862.6 1123.3,872.7 1123.7,849.2 1124.1,833.7 1124.6,863.7 1125.0,847.4 1125.4,865.4 1125.8,848.2 1126.3,866.6 1126.7,848.9 1127.1,858.0 1127.5,866.5 1128.0,861.9 1128.4,871.0 1128.8,877.8 1129.2,877.2 1129.7,866.0 1130.1,877.6 1130.5,860.8 1130.9,859.9 1131.4,860.8 1131.8,872.1 1132.2,866.0 1132.6,867.2 1133.0,852.0 1133.5,876.5 1133.9,871.9 1134.3,870.5 1134.7,869.7 1135.2,876.8 1135.6,875.7 1136.0,857.3 1136.4,876.3 1136.9,858.9 1137.3,846.5 1137.7,855.3 1138.1,890.6 1138.6,861.6 1139.0,865.2 1139.4,864.7 1139.8,889.6 1140.3,862.8 1140.7,884.1 1141.1,857.3 1141.5,860.1 1142.0,843.7 1142.4,877.2 1142.8,890.4 1143.2,861.5 1143.6,863.8 1144.1,878.3 1144.5,858.9 1144.9,866.8 1145.3,889.4 1145.8,879.1 1146.2,880.4 1146.6,876.9 1147.0,873.8 1147.5,884.1 1147.9,878.8 1148.3,870.1 1148.7,877.9 1149.2,880.4 1149.6,881.1 1150.0,879.0 1150.4,899.8 1150.9,876.7 1151.3,890.3 1151.7,877.8 1152.1,895.9 1152.6,869.2 1153.0,877.2 1153.4,895.3 1153.8,877.7 1154.2,889.2 1154.7,860.7 1155.1,875.7 1155.5,890.4 1155.9,879.2 1156.4,882.4 1156.8,868.8 1157.2,878.5 1157.6,877.1 1158.1,895.7 1158.5,874.5 1158.9,860.1 1159.3,876.8 1159.8,884.6 1160.2,882.6 1160.6,895.4 1161.0,882.9 1161.5,897.6 1161.9,885.1 1162.3,890.2 1162.7,895.5 1163.2,879.9 1163.6,903.4 1164.0,887.5 1164.4,902.2 1164.8,867.1 1165.3,865.8 1165.7,878.7 1166.1,867.2 1166.5,882.1 1167.0,883.0 1167.4,894.1 1167.8,899.7 1168.2,888.5 1168.7,896.3 1169.1,895.5 1169.5,882.8 1169.9,892.6 1170.4,908.9 1170.8,894.3 1171.2,900.7 1171.6,895.8 1172.1,905.0 1172.5,879.7 1172.9,872.2 1173.3,906.1 1173.8,886.9 1174.2,887.7 1174.6,906.7 1175.0,893.9 1175.4,879.7 1175.9,886.3 1176.3,878.1 1176.7,909.4 1177.1,905.1 1177.6,893.9 1178.0,893.5 1178.4,897.6 1178.8,902.5 1179.3,903.1 1179.7,905.7 1180.1,894.3 1180.5,930.3 1181.0,882.3 1181.4,906.3 1181.8,916.7 1182.2,895.2 1182.7,917.1 1183.1,897.7 1183.5,906.8 1183.9,896.2 1184.4,894.4 1184.8,889.2 1185.2,909.4 1185.6,907.5 1186.0,904.8 1186.5,920.7 1186.9,898.9 1187.3,904.5 1187.7,921.1 1188.2,893.3 1188.6,892.0 1189.0,922.0 1189.4,901.6 1189.9,894.5 1190.3,899.4 1190.7,919.9 1191.1,924.9 1191.6,911.2 1192.0,915.8 1192.4,910.8 1192.8,912.3 1193.3,905.8 1193.7,918.1 1194.1,914.1 1194.5,880.2 1195.0,914.6 1195.4,905.5 1195.8,910.9 1196.2,912.0 1196.6,924.8 1197.1,909.5 1197.5,916.2 1197.9,907.1 1198.3,894.0 1198.8,914.9 1199.2,909.0 1199.6,928.9 1200.0,916.8 1200.5,901.6 1200.9,919.6 1201.3,926.3 1201.7,917.5 1202.2,922.2 1202.6,923.2 1203.0,925.1 1203.4,899.8 1203.9,931.3 1204.3,926.7 1204.7,928.9 1205.1,909.6 1205.6,926.5 1206.0,909.8 1206.4,922.6 1206.8,925.0 1207.2,941.1 1207.7,912.5 1208.1,920.2 1208.5,922.1 1208.9,928.2 1209.4,931.9 1209.8,941.5 1210.2,918.0 1210.6,925.7 1211.1,933.0 1211.5,936.3 1211.9,928.7 1212.3,931.4 1212.8,913.1 1213.2,922.9 1213.6,938.1 1214.0,944.0 1214.5,935.1 1214.9,942.8 1215.3,932.6 1215.7,929.5 1216.2,927.4 1216.6,930.2 1217.0,937.1 1217.4,929.1 1217.8,945.5 1218.3,937.2 1218.7,928.0 1219.1,934.1 1219.5,951.3 1220.0,950.4 1220.4,955.8 1220.8,919.5 1221.2,955.9 1221.7,941.2 1222.1,920.4 1222.5,928.9 1222.9,926.8 1223.4,946.7 1223.8,933.8 1224.2,909.5 1224.6,942.9 1225.1,938.5 1225.5,946.7 1225.9,943.9 1226.3,940.1 1226.8,929.7 1227.2,954.5 1227.6,960.5 1228.0,945.4 1228.4,943.9 1228.9,931.4 1229.3,939.2 1229.7,953.9 1230.1,941.6 1230.6,936.1 1231.0,945.3 1231.4,952.4 1231.8,941.9 1232.3,953.3 1232.7,969.7 1233.1,936.1 1233.5,964.4 1234.0,954.6 1234.4,954.8 1234.8,955.4 1235.2,955.2 1235.7,967.8 1236.1,947.4 1236.5,953.0 1236.9,953.3 1237.4,942.7 1237.8,942.8 1238.2,940.7 1238.6,935.7 1239.0,950.8 1239.5,972.3 1239.9,954.1 1240.3,956.6 1240.7,956.4 1241.2,963.9 1241.6,967.3 1242.0,949.9 1242.4,948.4 1242.9,970.8 1243.3,953.7 1243.7,961.6 1244.1,964.3 1244.6,953.4 1245.0,961.5 1245.4,967.2 1245.8,961.1 1246.3,983.1 1246.7,968.8 1247.1,967.6 1247.5,978.0 1248.0,961.9 1248.4,961.3 1248.8,970.9 1249.2,966.8 1249.6,958.3 1250.1,954.7 1250.5,974.2 1250.9,963.1 1251.3,956.2 1251.8,967.8 1252.2,976.0 1252.6,976.4 1253.0,972.2 1253.5,980.1 1253.9,948.7 1254.3,976.1 1254.7,966.7 1255.2,969.1 1255.6,964.9 1256.0,976.0 1256.4,985.9 1256.9,955.8 1257.3,974.1 1257.7,972.5 1258.1,972.1 1258.6,961.5 1259.0,967.1 1259.4,963.3 1259.8,967.4 1260.2,974.8 1260.7,974.2 1261.1,985.0 1261.5,997.9 1261.9,980.7 1262.4,989.8 1262.8,952.3 1263.2,963.4 1263.6,967.9 1264.1,986.1 1264.5,959.6 1264.9,998.9 1265.3,994.2 1265.8,990.2 1266.2,992.5 1266.6,981.6 1267.0,981.4 1267.5,964.2 1267.9,974.0 1268.3,972.1 1268.7,980.8 1269.2,987.0 1269.6,993.0 1270.0,1001.8 1270.4,995.6 1270.8,991.0 1271.3,979.6 1271.7,1005.2 1272.1,1002.3 1272.5,986.3 1273.0,999.7 1273.4,985.9 1273.8,993.9 1274.2,997.7 1274.7,1004.0 1275.1,991.7 1275.5,998.5 1275.9,997.7 1276.4,998.3 1276.8,990.2 1277.2,990.9 1277.6,1010.3 1278.1,994.7 1278.5,989.3 1278.9,983.1 1279.3,986.1 1279.8,992.2 1280.2,1006.4 1280.6,1002.9 1281.0,986.0 1281.4,1002.8 1281.9,985.5 1282.3,983.3 1282.7,1007.4 1283.1,992.4 1283.6,998.3 1284.0,976.8 1284.4,989.2 1284.8,1003.3 1285.3,994.2 1285.7,1008.0 1286.1,1000.5 1286.5,997.2 1287.0,998.0 1287.4,996.7 1287.8,1009.3 1288.2,1019.2 1288.7,1004.4 1289.1,1010.0 1289.5,1008.4 1289.9,979.9 1290.4,990.0 1290.8,1003.9 1291.2,1016.9 1291.6,1015.8 1292.0,999.3 1292.5,992.4 1292.9,1006.4 1293.3,1002.4 1293.7,1001.5 1294.2,993.5 1294.6,1023.6 1295.0,1003.3 1295.4,1001.0 1295.9,995.8 1296.3,1001.7 1296.7,1017.1 1297.1,1012.1 1297.6,1021.9 1298.0,1004.8 1298.4,1005.1 1298.8,1002.2 1299.3,1017.4 1299.7,1019.4 1300.1,992.8 1300.5,1006.6 1301.0,991.1 1301.4,1004.5 1301.8,1023.9 1302.2,1001.4 1302.6,997.3 1303.1,1014.5 1303.5,1029.6 1303.9,1003.8 1304.3,1012.2 1304.8,1008.2 1305.2,1038.3 1305.6,1006.9 1306.0,1039.4 1306.5,1020.7 1306.9,1003.4 1307.3,1030.8 1307.7,1031.5 1308.2,1017.6 1308.6,996.8 1309.0,997.3 1309.4,1019.9 1309.9,1004.0 1310.3,1008.5 1310.7,1011.9 1311.1,1011.2 1311.6,1022.3 1312.0,1007.3 1312.4,1004.9 1312.8,988.8 1313.2,1006.9 1313.7,1040.8 1314.1,1028.6 1314.5,1013.4 1314.9,1016.3 1315.4,1035.8 1315.8,1018.9 1316.2,1021.3 1316.6,1018.5 1317.1,1019.5 1317.5,1009.3 1317.9,1004.1 1318.3,1012.2 1318.8,1030.3 1319.2,1028.1 1319.6,1026.3 1320.0,1020.5 1320.5,1024.5 1320.9,1024.0 1321.3,1029.9 1321.7,1011.5 1322.2,1012.8 1322.6,1012.0 1323.0,1022.5 1323.4,1017.5 1323.8,1031.3 1324.3,1032.5 1324.7,1028.1 1325.1,1017.2 1325.5,1024.7 1326.0,1034.8 1326.4,1022.8 1326.8,1019.8 1327.2,1022.6 1327.7,1031.1 1328.1,1024.1 1328.5,1029.2 1328.9,1028.5 1329.4,1026.4 1329.8,1018.3 1330.2,1007.9 1330.6,1010.8 1331.1,1020.3 1331.5,1030.7 1331.9,1030.1 1332.3,1029.9 1332.8,1016.1 1333.2,1055.1 1333.6,1025.5 1334.0,1048.0 1334.4,1028.6 1334.9,1015.7 1335.3,1038.0 1335.7,1051.8 1336.1,1016.8 1336.6,1015.0 1337.0,1025.1 1337.4,1017.9 1337.8,1038.5 1338.3,1019.3 1338.7,1014.3 1339.1,1025.0 1339.5,1028.8 1340.0,1019.2 1340.4,1021.0 1340.8,1039.7 1341.2,1019.2 1341.7,1025.5 1342.1,1031.6 1342.5,1020.6 1342.9,1024.5 1343.4,1026.6 1343.8,1039.1 1344.2,1026.2 1344.6,1045.5 1345.0,1036.1 1345.5,1051.8 1345.9,1052.1 1346.3,1031.3 1346.7,1036.7 1347.2,1035.3 1347.6,1030.6 1348.0,1033.2 1348.4,1045.6 1348.9,1036.5 1349.3,1038.1 1349.7,1042.8 1350.1,1039.2 1350.6,1041.8 1351.0,1044.8 1351.4,1042.0 1351.8,1036.6 1352.3,1019.0 1352.7,1047.4 1353.1,1034.6 1353.5,1054.2 1354.0,1024.7 1354.4,1043.7 1354.8,1039.3 1355.2,1028.5 1355.6,1031.5 1356.1,1055.9 1356.5,1036.3 1356.9,1044.1 1357.3,1036.1 1357.8,1040.9 1358.2,1035.5 1358.6,1040.1 1359.0,1044.5 1359.5,1032.0 1359.9,1058.6 1360.3,1048.1 1360.7,1053.4 1361.2,1045.8 1361.6,1048.8 1362.0,1046.3 1362.4,1049.9 1362.9,1049.9 1363.3,1061.6 1363.7,1046.3 1364.1,1043.2 1364.6,1052.2 1365.0,1053.0 1365.4,1053.2 1365.8,1030.9 1366.2,1045.6 1366.7,1043.9 1367.1,1050.9 1367.5,1053.0 1367.9,1057.0 1368.4,1033.8 1368.8,1065.4 1369.2,1046.4 1369.6,1049.8 1370.1,1052.3 1370.5,1065.2 1370.9,1062.2 1371.3,1041.1 1371.8,1057.6 1372.2,1042.7 1372.6,1045.0 1373.0,1046.1 1373.5,1044.6 1373.9,1063.9 1374.3,1057.1 1374.7,1046.3 1375.2,1065.3 1375.6,1037.4 1376.0,1059.1 1376.4,1054.6 1376.8,1064.2 1377.3,1051.1 1377.7,1062.0 1378.1,1057.5 1378.5,1066.5 1379.0,1044.4 1379.4,1071.8 1379.8,1052.1 1380.2,1054.5 1380.7,1052.9 1381.1,1067.2 1381.5,1047.8 1381.9,1048.8 1382.4,1056.8 1382.8,1055.7 1383.2,1060.5 1383.6,1053.2 1384.1,1067.5 1384.5,1054.6 1384.9,1056.4 1385.3,1074.0 1385.8,1085.9 1386.2,1062.3 1386.6,1063.1 1387.0,1050.2 1387.4,1061.6 1387.9,1067.2 1388.3,1075.7 1388.7,1063.9 1389.1,1068.9 1389.6,1074.2 1390.0,1065.1 1390.4,1054.3 1390.8,1063.7 1391.3,1074.9 1391.7,1062.1 1392.1,1075.9 1392.5,1080.7 1393.0,1061.4 1393.4,1071.6 1393.8,1056.1 1394.2,1063.9 1394.7,1074.8 1395.1,1065.4 1395.5,1055.4 1395.9,1069.8 1396.4,1078.3 1396.8,1074.7 1397.2,1076.4 1397.6,1080.1 1398.0,1081.4 1398.5,1065.5 1398.9,1059.2 1399.3,1073.4 1399.7,1062.8 1400.2,1061.9 1400.6,1054.8 1401.0,1072.7 1401.4,1074.4 1401.9,1067.4 1402.3,1070.7 1402.7,1069.0 1403.1,1059.8 1403.6,1076.3 1404.0,1070.5 1404.4,1082.0 1404.8,1074.5 1405.3,1079.5 1405.7,1080.5 1406.1,1075.7 1406.5,1078.1 1407.0,1070.6 1407.4,1066.7 1407.8,1088.5 1408.2,1065.3 1408.6,1095.8 1409.1,1072.8 1409.5,1068.7 1409.9,1081.7 1410.3,1077.9 1410.8,1083.3 1411.2,1067.8 1411.6,1106.1 1412.0,1085.7 1412.5,1095.0 1412.9,1075.2 1413.3,1065.0 1413.7,1066.2 1414.2,1071.4 1414.6,1075.5 1415.0,1085.2 1415.4,1066.8 1415.9,1072.6 1416.3,1086.5 1416.7,1090.8 1417.1,1084.9 1417.6,1069.1 1418.0,1067.7 1418.4,1064.5 1418.8,1087.0 1419.2,1083.3 1419.7,1067.2 1420.1,1078.3 1420.5,1073.4 1420.9,1093.0 1421.4,1084.3 1421.8,1081.2 1422.2,1084.6 1422.6,1085.3 1423.1,1096.9 1423.5,1066.6 1423.9,1080.6 1424.3,1095.7 1424.8,1072.3 1425.2,1081.9 1425.6,1076.0 1426.0,1084.6 1426.5,1090.3 1426.9,1090.2 1427.3,1080.1 1427.7,1076.2 1428.2,1079.1 1428.6,1077.8 1429.0,1072.7 1429.4,1081.4 1429.8,1074.9 1430.3,1074.1 1430.7,1081.8 1431.1,1085.4 1431.5,1088.9 1432.0,1096.1 1432.4,1099.6 1432.8,1073.1 1433.2,1085.5 1433.7,1090.7 1434.1,1071.1 1434.5,1076.9 1434.9,1085.5 1435.4,1076.8 1435.8,1088.1 1436.2,1083.1 1436.6,1069.7 1437.1,1076.9 1437.5,1089.4 1437.9,1080.6 1438.3,1076.2 1438.8,1088.4 1439.2,1091.3 1439.6,1070.3 1440.0,1090.5 1440.4,1100.1 1440.9,1086.7 1441.3,1066.9 1441.7,1082.4 1442.1,1079.5 1442.6,1108.5 1443.0,1093.6 1443.4,1077.5 1443.8,1092.5 1444.3,1076.7 1444.7,1084.6 1445.1,1085.5 1445.5,1073.8 1446.0,1094.1 1446.4,1093.9 1446.8,1088.7 1447.2,1087.9 1447.7,1105.7 1448.1,1078.9 1448.5,1088.2 1448.9,1092.0 1449.4,1085.0 1449.8,1094.5 1450.2,1079.9 1450.6,1090.6 1451.0,1084.7 1451.5,1099.7 1451.9,1094.2 1452.3,1088.4 1452.7,1100.7 1453.2,1098.3 1453.6,1092.9 1454.0,1082.3 1454.4,1085.7 1454.9,1084.6 1455.3,1090.3 1455.7,1085.0 1456.1,1079.3 1456.6,1092.1 1457.0,1089.8 1457.4,1088.6 1457.8,1112.5 1458.3,1095.2 1458.7,1090.6 1459.1,1087.7 1459.5,1097.8 1460.0,1086.1 1460.4,1101.1 1460.8,1097.0 1461.2,1080.1 1461.6,1108.1 1462.1,1096.6 1462.5,1097.5 1462.9,1097.1 1463.3,1101.4 1463.8,1090.7 1464.2,1106.6 1464.6,1109.1 1465.0,1092.8 1465.5,1108.3 1465.9,1094.2 1466.3,1097.6 1466.7,1104.2 1467.2,1101.3 1467.6,1099.3 1468.0,1094.4 1468.4,1104.5 1468.9,1100.8 1469.3,1112.2 1469.7,1101.8 1470.1,1117.0 1470.6,1100.1 1471.0,1104.0 1471.4,1081.0 1471.8,1088.6 1472.2,1101.8 1472.7,1092.0 1473.1,1098.3 1473.5,1111.5 1473.9,1123.3 1474.4,1091.4 1474.8,1098.1 1475.2,1119.6 1475.6,1096.2 1476.1,1093.9 1476.5,1108.6 1476.9,1095.4 1477.3,1118.4 1477.8,1105.0 1478.2,1102.9 1478.6,1096.3 1479.0,1099.9 1479.5,1101.7 1479.9,1098.9 1480.3,1110.0 1480.7,1090.9 1481.2,1107.6 1481.6,1097.5 1482.0,1104.9 1482.4,1107.3 1482.8,1099.9 1483.3,1101.4 1483.7,1093.4 1484.1,1096.0 1484.5,1111.1 1485.0,1101.6 1485.4,1105.4 1485.8,1113.7 1486.2,1116.6 1486.7,1104.5 1487.1,1111.8 1487.5,1119.7 1487.9,1108.2 1488.4,1105.5 1488.8,1106.8 1489.2,1118.8 1489.6,1113.3 1490.1,1095.9 1490.5,1115.3 1490.9,1111.5 1491.3,1087.9 1491.8,1105.8 1492.2,1113.6 1492.6,1126.8 1493.0,1106.6 1493.4,1122.1 1493.9,1110.0 1494.3,1117.7 1494.7,1125.1 1495.1,1095.3 1495.6,1111.3 1496.0,1102.2 1496.4,1104.0 1496.8,1117.4 1497.3,1110.2 1497.7,1114.3 1498.1,1102.6 1498.5,1107.5 1499.0,1114.7 1499.4,1096.8 1499.8,1107.2 1500.2,1107.8 1500.7,1119.1 1501.1,1108.6 1501.5,1125.5 1501.9,1108.4 1502.4,1121.0 1502.8,1111.1 1503.2,1115.4 1503.6,1111.0 1504.0,1109.9 1504.5,1113.8 1504.9,1113.9 1505.3,1126.9 1505.7,1130.7 1506.2,1102.5 1506.6,1108.8 1507.0,1127.3 1507.4,1097.1 1507.9,1120.7 1508.3,1109.8 1508.7,1110.7 1509.1,1113.7 1509.6,1109.3 1510.0,1127.2 1510.4,1115.4 1510.8,1117.4 1511.3,1114.5 1511.7,1117.8 1512.1,1121.3 1512.5,1122.2 1513.0,1107.8 1513.4,1123.5 1513.8,1112.8 1514.2,1113.0 1514.6,1117.1 1515.1,1112.6 1515.5,1111.6 1515.9,1121.4 1516.3,1113.7 1516.8,1099.8 1517.2,1126.5 1517.6,1119.8 1518.0,1124.1 1518.5,1099.6 1518.9,1130.0 1519.3,1117.5 1519.7,1109.4 1520.2,1125.6 1520.6,1119.2 1521.0,1124.5 1521.4,1130.2 1521.9,1119.0 1522.3,1114.1 1522.7,1122.2 1523.1,1117.3 1523.6,1112.8 1524.0,1108.4 1524.4,1130.2 1524.8,1113.9 1525.2,1125.0 1525.7,1136.3 1526.1,1126.6 1526.5,1114.1 1526.9,1117.2 1527.4,1129.9 1527.8,1106.0 1528.2,1116.8 1528.6,1121.1 1529.1,1125.5 1529.5,1117.1 1529.9,1124.4 1530.3,1111.0 1530.8,1118.4 1531.2,1115.9 1531.6,1124.2 1532.0,1134.7 1532.5,1117.0 1532.9,1130.8 1533.3,1122.9 1533.7,1122.2 1534.2,1129.2 1534.6,1114.5 1535.0,1135.2 1535.4,1109.5 1535.8,1128.0 1536.3,1114.4 1536.7,1111.6 1537.1,1130.8 1537.5,1129.8 1538.0,1115.1 1538.4,1121.9 1538.8,1123.0 1539.2,1140.0 1539.7,1138.4 1540.1,1119.3 1540.5,1111.6 1540.9,1130.6 1541.4,1132.1 1541.8,1122.7 1542.2,1120.6 1542.6,1119.9 1543.1,1128.8 1543.5,1142.2 1543.9,1112.4 1544.3,1129.7 1544.8,1114.4 1545.2,1143.0 1545.6,1122.4 1546.0,1130.2 1546.4,1135.4 1546.9,1117.5 1547.3,1114.8 1547.7,1131.4 1548.1,1120.7 1548.6,1135.9 1549.0,1132.0 1549.4,1128.8 1549.8,1129.8 1550.3,1121.3 1550.7,1137.6 1551.1,1118.6 1551.5,1118.7 1552.0,1129.2 1552.4,1137.8 1552.8,1148.3 1553.2,1128.2 1553.7,1134.0 1554.1,1126.9 1554.5,1137.2 1554.9,1128.0 1555.4,1128.7 1555.8,1128.1 1556.2,1125.8 1556.6,1125.9 1557.0,1120.1 1557.5,1135.5 1557.9,1122.4 1558.3,1127.4 1558.7,1132.6 1559.2,1137.7 1559.6,1116.4 1560.0,1127.2 1560.4,1133.8 1560.9,1128.8 1561.3,1129.5 1561.7,1134.2 1562.1,1141.8 1562.6,1128.5 1563.0,1131.4 1563.4,1132.5 1563.8,1121.6 1564.3,1141.7 1564.7,1138.7 1565.1,1129.1 1565.5,1123.4 1566.0,1125.4 1566.4,1124.5 1566.8,1150.1 1567.2,1126.8 1567.6,1127.6 1568.1,1125.4 1568.5,1137.4 1568.9,1127.1 1569.3,1123.0 1569.8,1117.9 1570.2,1129.7 1570.6,1143.6 1571.0,1131.7 1571.5,1126.7 1571.9,1128.0 1572.3,1116.0 1572.7,1134.5 1573.2,1141.7 1573.6,1138.5 1574.0,1127.5 1574.4,1140.2 1574.9,1142.4 1575.3,1140.8 1575.7,1123.3 1576.1,1131.8 1576.6,1136.9 1577.0,1126.8 1577.4,1128.4 1577.8,1142.9 1578.2,1127.4 1578.7,1132.7 1579.1,1152.7 1579.5,1145.3 1579.9,1133.0 1580.4,1131.2 1580.8,1138.0 1581.2,1144.3 1581.6,1133.7 1582.1,1151.8 1582.5,1131.4 1582.9,1137.7 1583.3,1136.8 1583.8,1142.3 1584.2,1129.7 1584.6,1157.1 1585.0,1144.6 1585.5,1132.4 1585.9,1143.6 1586.3,1125.1 1586.7,1134.2 1587.2,1144.6 1587.6,1128.6 1588.0,1139.1 1588.4,1133.5 1588.8,1143.9 1589.3,1143.9 1589.7,1132.9 1590.1,1138.2 1590.5,1145.8 1591.0,1147.0 1591.4,1134.0 1591.8,1124.7 1592.2,1147.1 1592.7,1134.3 1593.1,1165.2 1593.5,1152.3 1593.9,1134.8 1594.4,1127.2 1594.8,1140.4 1595.2,1136.5 1595.6,1139.1 1596.1,1132.9 1596.5,1150.9 1596.9,1136.4 1597.3,1145.7 1597.8,1145.1 1598.2,1142.4 1598.6,1144.3 1599.0,1149.3 1599.4,1145.1 1599.9,1151.2 1600.3,1130.6 1600.7,1137.5 1601.1,1147.1 1601.6,1130.3 1602.0,1133.0 1602.4,1140.0 1602.8,1148.9 1603.3,1142.3 1603.7,1139.8 1604.1,1133.0 1604.5,1146.6 1605.0,1150.0 1605.4,1125.9 1605.8,1133.8 1606.2,1143.1 1606.7,1153.7 1607.1,1142.0 1607.5,1136.8 1607.9,1140.0 1608.4,1139.6 1608.8,1146.4 1609.2,1137.3 1609.6,1152.3 1610.0,1151.0 1610.5,1151.7 1610.9,1153.1 1611.3,1131.3 1611.7,1162.4 1612.2,1146.2 1612.6,1156.7 1613.0,1159.1 1613.4,1147.8 1613.9,1162.1 1614.3,1149.8 1614.7,1129.7 1615.1,1150.3 1615.6,1145.6 1616.0,1156.9 1616.4,1145.8 1616.8,1162.6 1617.3,1148.6 1617.7,1151.4 1618.1,1132.1 1618.5,1151.4 1619.0,1154.0 1619.4,1155.8 1619.8,1161.4 1620.2,1144.9 1620.6,1139.2 1621.1,1154.8 1621.5,1145.8 1621.9,1155.0 1622.3,1148.7 1622.8,1148.4 1623.2,1164.6 1623.6,1159.1 1624.0,1144.8 1624.5,1169.0 1624.9,1152.9 1625.3,1156.0 1625.7,1161.1 1626.2,1153.0 1626.6,1150.9 1627.0,1149.1 1627.4,1176.1 1627.9,1139.7 1628.3,1158.1 1628.7,1145.4 1629.1,1155.4 1629.6,1159.4 1630.0,1155.2 1630.4,1127.9 1630.8,1141.6 1631.2,1158.0 1631.7,1153.2 1632.1,1145.8 1632.5,1150.5 1632.9,1154.8 1633.4,1157.3 1633.8,1164.9 1634.2,1149.6 1634.6,1146.7 1635.1,1137.3 1635.5,1160.9 1635.9,1150.9 1636.3,1156.8 1636.8,1146.0 1637.2,1157.7 1637.6,1162.4 1638.0,1171.4 1638.5,1151.1 1638.9,1156.0 1639.3,1147.9 1639.7,1162.2 1640.2,1135.7 1640.6,1163.8 1641.0,1153.6 1641.4,1154.5 1641.8,1148.8 1642.3,1159.7 1642.7,1166.2 1643.1,1166.9 1643.5,1151.8 1644.0,1157.9 1644.4,1156.0 1644.8,1165.9 1645.2,1158.0 1645.7,1157.4 1646.1,1154.2 1646.5,1171.9 1646.9,1166.1 1647.4,1145.1 1647.8,1163.2 1648.2,1160.7 1648.6,1163.4 1649.1,1172.8 1649.5,1169.4 1649.9,1157.3 1650.3,1166.2 1650.8,1143.6 1651.2,1173.4 1651.6,1177.3 1652.0,1164.3 1652.4,1171.3 1652.9,1149.6 1653.3,1164.9 1653.7,1157.1 1654.1,1173.5 1654.6,1156.1 1655.0,1156.5 1655.4,1151.5 1655.8,1160.2 1656.3,1157.8 1656.7,1160.9 1657.1,1154.6 1657.5,1166.0 1658.0,1158.1 1658.4,1167.6 1658.8,1156.9 1659.2,1165.3 1659.7,1168.6 1660.1,1168.9 1660.5,1151.0 1660.9,1176.5 1661.4,1176.0 1661.8,1158.3 1662.2,1172.1 1662.6,1167.8 1663.0,1168.1 1663.5,1145.0 1663.9,1169.9 1664.3,1170.4 1664.7,1167.7 1665.2,1162.6 1665.6,1160.4 1666.0,1177.1 1666.4,1161.1 1666.9,1148.6 1667.3,1180.0 1667.7,1160.3 1668.1,1158.8 1668.6,1164.1 1669.0,1167.1 1669.4,1185.3 1669.8,1155.6 1670.3,1168.5 1670.7,1167.6 1671.1,1155.7 1671.5,1185.7 1672.0,1166.8 1672.4,1161.4 1672.8,1160.4 1673.2,1161.5 1673.6,1149.6 1674.1,1164.4 1674.5,1158.4 1674.9,1160.5 1675.3,1179.5 1675.8,1173.6 1676.2,1149.9 1676.6,1169.7 1677.0,1168.1 1677.5,1178.6 1677.9,1170.6 1678.3,1178.8 1678.7,1173.0 1679.2,1163.4 1679.6,1175.1 1680.0,1173.4 1680.4,1157.2 1680.9,1164.5 1681.3,1164.3 1681.7,1160.4 1682.1,1173.4 1682.6,1172.2 1683.0,1186.2 1683.4,1163.0 1683.8,1171.0 1684.2,1169.4 1684.7,1178.5 1685.1,1164.4 1685.5,1164.5 1685.9,1168.3 1686.4,1183.1 1686.8,1177.0 1687.2,1170.4 1687.6,1177.2 1688.1,1167.1 1688.5,1162.1 1688.9,1176.8 1689.3,1172.2 1689.8,1176.5 1690.2,1162.3 1690.6,1163.5 1691.0,1149.0 1691.5,1171.1 1691.9,1179.0 1692.3,1168.0 1692.7,1173.4 1693.2,1170.0 1693.6,1161.4 1694.0,1174.2 1694.4,1165.9 1694.8,1189.6 1695.3,1163.4 1695.7,1171.1 1696.1,1174.3 1696.5,1176.6 1697.0,1160.8 1697.4,1176.9 1697.8,1162.2 1698.2,1177.1 1698.7,1172.6 1699.1,1170.1 1699.5,1156.4 1699.9,1171.2 1700.4,1171.4 1700.8,1174.0 1701.2,1176.1 1701.6,1178.7 1702.1,1158.8 1702.5,1161.7 1702.9,1179.7 1703.3,1172.7 1703.8,1183.9 1704.2,1166.5 1704.6,1168.7 1705.0,1173.5 1705.4,1181.2 1705.9,1168.3 1706.3,1169.7 1706.7,1176.4 1707.1,1168.9 1707.6,1186.2 1708.0,1180.1 1708.4,1183.2 1708.8,1174.5 1709.3,1161.7 1709.7,1175.2 1710.1,1166.3 1710.5,1176.1 1711.0,1179.3 1711.4,1167.7 1711.8,1171.7 1712.2,1164.6 1712.7,1168.3 1713.1,1183.2 1713.5,1197.6 1713.9,1175.6 1714.4,1186.5 1714.8,1188.5 1715.2,1189.2 1715.6,1182.4 1716.0,1178.9 1716.5,1177.3 1716.9,1160.6 1717.3,1187.5 1717.7,1177.7 1718.2,1188.0 1718.6,1186.0 1719.0,1177.4 1719.4,1174.6 1719.9,1188.7 1720.3,1168.9 1720.7,1186.0 1721.1,1170.6 1721.6,1179.0 1722.0,1171.2 1722.4,1174.1 1722.8,1181.2 1723.3,1175.1 1723.7,1190.1 1724.1,1189.9 1724.5,1182.2 1725.0,1168.1 1725.4,1185.6 1725.8,1184.5 1726.2,1166.0 1726.6,1179.5 1727.1,1179.9 1727.5,1188.6 1727.9,1179.6 1728.3,1175.3 1728.8,1180.8 1729.2,1174.1 1729.6,1177.8 1730.0,1172.0 1730.5,1173.9 1730.9,1181.9 1731.3,1173.8 1731.7,1166.2 1732.2,1178.6 1732.6,1191.2 1733.0,1179.7 1733.4,1183.0 1733.9,1160.3 1734.3,1175.4 1734.7,1190.8 1735.1,1183.4 1735.6,1170.0 1736.0,1191.5 1736.4,1186.2 1736.8,1182.2 1737.2,1183.6 1737.7,1187.3 1738.1,1181.5 1738.5,1194.2 1738.9,1187.5 1739.4,1187.8 1739.8,1185.4 1740.2,1185.5 1740.6,1183.2 1741.1,1186.1 1741.5,1186.8 1741.9,1180.6 1742.3,1176.3 1742.8,1175.9 1743.2,1193.2 1743.6,1181.9 1744.0,1177.9 1744.5,1186.3 1744.9,1180.4 1745.3,1186.1 1745.7,1181.3 1746.2,1196.9 1746.6,1180.8 1747.0,1188.6 1747.4,1190.8 1747.8,1187.3 1748.3,1177.0 1748.7,1177.4 1749.1,1183.2 1749.5,1178.3 1750.0,1188.7 1750.4,1195.6 1750.8,1200.8 1751.2,1185.9 1751.7,1187.0 1752.1,1185.6 1752.5,1185.4 1752.9,1176.2 1753.4,1193.6 1753.8,1192.5 1754.2,1170.8 1754.6,1180.2 1755.1,1189.0 1755.5,1203.2 1755.9,1193.6 1756.3,1189.8 1756.8,1187.6 1757.2,1185.5 1757.6,1189.0 1758.0,1177.9 1758.4,1197.0 1758.9,1189.7 1759.3,1193.0 1759.7,1181.3 1760.1,1186.3 1760.6,1181.4 1761.0,1187.3 1761.4,1157.6 1761.8,1182.2 1762.3,1194.3 1762.7,1188.3 1763.1,1191.6 1763.5,1182.3 1764.0,1180.7 1764.4,1185.5 1764.8,1190.1 1765.2,1194.2 1765.7,1175.9 1766.1,1179.9 1766.5,1212.7 1766.9,1188.5 1767.4,1196.0 1767.8,1192.3 1768.2,1175.6 1768.6,1198.6 1769.0,1197.9 1769.5,1169.7 1769.9,1193.5 1770.3,1191.6 1770.7,1180.6 1771.2,1194.0 1771.6,1189.7 1772.0,1188.1 1772.4,1178.7 1772.9,1203.3 1773.3,1197.0 1773.7,1191.4 1774.1,1183.1 1774.6,1195.7 1775.0,1186.9 1775.4,1194.8 1775.8,1194.0 1776.3,1180.6 1776.7,1192.9 1777.1,1167.1 1777.5,1188.2 1778.0,1182.1 1778.4,1185.3 1778.8,1203.9 1779.2,1203.9 1779.6,1187.6 1780.1,1200.6 1780.5,1196.2 1780.9,1194.6 1781.3,1199.3 1781.8,1182.5 1782.2,1185.8 1782.6,1190.8 1783.0,1187.8 1783.5,1199.7 1783.9,1185.4 1784.3,1199.4 1784.7,1180.1 1785.2,1198.1 1785.6,1197.3 1786.0,1183.5 1786.4,1187.8 1786.9,1200.7 1787.3,1188.3 1787.7,1193.2 1788.1,1193.2 1788.6,1188.4 1789.0,1188.5 1789.4,1185.4 1789.8,1189.8 1790.2,1191.1 1790.7,1194.6 1791.1,1181.9 1791.5,1200.3 1791.9,1178.7 1792.4,1176.6 1792.8,1176.8 1793.2,1195.4 1793.6,1177.5 1794.1,1185.3 1794.5,1186.0 1794.9,1168.2 1795.3,1193.2 1795.8,1190.2 1796.2,1205.0 1796.6,1212.8 1797.0,1192.8 1797.5,1191.7 1797.9,1189.6 1798.3,1192.9 1798.7,1211.4 1799.2,1192.5 1799.6,1186.6 1800.0,1183.1 1800.4,1203.4 1800.8,1203.0 1801.3,1201.5 1801.7,1201.2 1802.1,1209.1 1802.5,1201.7 1803.0,1183.6 1803.4,1204.9 1803.8,1211.5 1804.2,1198.8 1804.7,1200.7 1805.1,1191.3 1805.5,1202.8 1805.9,1198.4 1806.4,1203.8 1806.8,1204.9 1807.2,1194.3 1807.6,1196.3 1808.1,1197.8 1808.5,1193.3 1808.9,1204.2 1809.3,1197.5 1809.8,1196.1 1810.2,1188.4 1810.6,1213.1 1811.0,1200.8 1811.4,1194.5 1811.9,1202.8 1812.3,1197.5 1812.7,1192.9 1813.1,1194.6 1813.6,1212.3 1814.0,1208.2 1814.4,1221.2 1814.8,1193.6 1815.3,1197.2 1815.7,1188.2 1816.1,1198.6 1816.5,1208.2 1817.0,1190.6 1817.4,1209.8 1817.8,1199.4 1818.2,1201.1 1818.7,1193.3 1819.1,1192.3 1819.5,1203.1 1819.9,1205.6 1820.4,1200.3 1820.8,1204.6 1821.2,1192.4 1821.6,1197.1 1822.0,1189.1 1822.5,1179.4 1822.9,1207.3 1823.3,1205.2 1823.7,1196.7 1824.2,1197.4 1824.6,1203.4 1825.0,1214.4 1825.4,1180.5 1825.9,1200.2 1826.3,1210.3 1826.7,1220.2 1827.1,1190.0 1827.6,1198.6 1828.0,1201.3 1828.4,1209.7 1828.8,1202.3 1829.3,1204.7 1829.7,1221.6 1830.1,1180.4 1830.5,1198.3 1831.0,1204.6 1831.4,1209.7 1831.8,1206.9 1832.2,1182.8 1832.6,1199.1 1833.1,1213.0 1833.5,1195.3 1833.9,1198.5 1834.3,1198.3 1834.8,1203.7 1835.2,1204.1 1835.6,1201.1 1836.0,1204.6 1836.5,1214.2 1836.9,1211.0 1837.3,1203.1 1837.7,1216.0 1838.2,1204.4 1838.6,1205.9 1839.0,1197.6 1839.4,1202.3 1839.9,1206.0 1840.3,1206.1 1840.7,1200.3 1841.1,1196.4 1841.6,1212.5 1842.0,1216.3 1842.4,1210.1 1842.8,1222.6 1843.2,1210.5 1843.7,1197.7 1844.1,1196.6 1844.5,1192.3 1844.9,1204.1 1845.4,1203.4 1845.8,1209.5 1846.2,1209.0 1846.6,1202.6 1847.1,1197.7 1847.5,1201.7 1847.9,1221.3 1848.3,1201.3 1848.8,1205.3 1849.2,1210.1 1849.6,1204.4 1850.0,1198.4 1850.5,1204.5 1850.9,1211.5 1851.3,1179.2 1851.7,1211.0 1852.2,1202.3 1852.6,1196.1 1853.0,1213.0 1853.4,1201.9 1853.8,1213.1 1854.3,1208.5 1854.7,1212.5 1855.1,1192.6 1855.5,1217.6 1856.0,1202.7 1856.4,1206.6 1856.8,1222.7 1857.2,1193.2 1857.7,1211.6 1858.1,1209.3 1858.5,1205.5 1858.9,1214.5 1859.4,1213.6 1859.8,1207.8 1860.2,1214.6 1860.6,1206.9 1861.1,1197.7 1861.5,1215.9 1861.9,1220.5 1862.3,1209.1 1862.8,1204.9 1863.2,1202.9 1863.6,1217.0 1864.0,1227.0 1864.4,1201.5 1864.9,1202.9 1865.3,1196.6 1865.7,1216.3 1866.1,1204.3 1866.6,1200.9 1867.0,1223.5 1867.4,1200.7 1867.8,1197.8 1868.3,1204.6 1868.7,1205.0 1869.1,1203.5 1869.5,1211.5 1870.0,1220.9 1870.4,1216.9 1870.8,1211.1 1871.2,1216.5 1871.7,1201.8 1872.1,1213.2 1872.5,1211.0 1872.9,1224.1 1873.4,1207.1 1873.8,1215.9 1874.2,1198.5 1874.6,1224.1 1875.0,1208.0 1875.5,1213.9 1875.9,1213.6 1876.3,1197.5 1876.7,1203.4 1877.2,1217.7 1877.6,1200.2 1878.0,1216.3 1878.4,1205.1 1878.9,1225.0 1879.3,1214.0 1879.7,1213.8 1880.1,1214.2 1880.6,1224.2 1881.0,1226.7 1881.4,1212.1 1881.8,1207.3 1882.3,1211.8 1882.7,1214.9 1883.1,1224.1 1883.5,1214.5 1884.0,1216.8 1884.4,1218.2 1884.8,1211.3 1885.2,1211.4 1885.6,1209.7 1886.1,1214.9 1886.5,1219.5 1886.9,1214.6 1887.3,1215.6 1887.8,1226.1 1888.2,1216.1 1888.6,1226.4 1889.0,1229.0 1889.5,1220.1 1889.9,1218.8 1890.3,1208.4 1890.7,1216.4 1891.2,1209.9 1891.6,1202.9 1892.0,1213.3 1892.4,1211.4 1892.9,1219.8 1893.3,1208.1 1893.7,1214.2 1894.1,1214.2 1894.6,1223.6 1895.0,1222.2 1895.4,1220.2 1895.8,1214.3 1896.2,1206.7 1896.7,1227.0 1897.1,1218.2 1897.5,1217.9 1897.9,1197.9 1898.4,1217.2 1898.8,1219.9 1899.2,1210.0 1899.6,1224.5 1900.1,1211.8 1900.5,1229.1 1900.9,1200.5 1901.3,1216.7 1901.8,1219.7 1902.2,1226.7 1902.6,1217.8 1903.0,1216.0 1903.5,1222.4 1903.9,1207.6 1904.3,1219.5 1904.7,1216.3 1905.2,1214.9 1905.6,1206.7 1906.0,1220.3 1906.4,1216.8 1906.8,1215.2 1907.3,1212.8 1907.7,1231.8 1908.1,1208.8 1908.5,1218.8 1909.0,1223.5 1909.4,1218.2 1909.8,1232.9 1910.2,1224.1 1910.7,1216.8 1911.1,1207.8 1911.5,1219.1 1911.9,1215.4 1912.4,1220.9 1912.8,1212.0 1913.2,1221.8 1913.6,1215.3 1914.1,1221.5 1914.5,1226.5 1914.9,1226.8 1915.3,1224.2 1915.8,1210.3 1916.2,1194.7 1916.6,1221.0 1917.0,1225.2 1917.4,1215.5 1917.9,1215.9 1918.3,1223.9 1918.7,1205.0 1919.1,1213.2 1919.6,1212.7 1920.0,1219.6 1920.4,1219.2 1920.8,1212.7 1921.3,1231.1 1921.7,1226.6 1922.1,1219.8 1922.5,1231.8 1923.0,1208.0 1923.4,1225.5 1923.8,1224.1 1924.2,1218.4 1924.7,1209.4 1925.1,1221.4 1925.5,1227.0 1925.9,1228.4 1926.4,1219.5 1926.8,1225.8 1927.2,1203.2 1927.6,1211.9 1928.0,1246.0 1928.5,1228.9 1928.9,1219.1 1929.3,1204.1 1929.7,1237.5 1930.2,1225.4 1930.6,1212.9 1931.0,1227.5 1931.4,1221.7 1931.9,1226.2 1932.3,1217.3 1932.7,1230.9 1933.1,1222.4 1933.6,1233.8 1934.0,1215.2 1934.4,1218.2 1934.8,1223.2 1935.3,1222.7 1935.7,1222.8 1936.1,1226.0 1936.5,1222.0 1937.0,1220.5 1937.4,1223.9 1937.8,1228.0 1938.2,1226.6 1938.6,1227.1 1939.1,1220.2 1939.5,1222.5 1939.9,1208.7 1940.3,1225.2 1940.8,1223.4 1941.2,1228.8 1941.6,1223.3 1942.0,1227.6 1942.5,1230.8 1942.9,1223.1 1943.3,1212.2 1943.7,1231.1 1944.2,1229.5 1944.6,1224.9 1945.0,1222.7 1945.4,1214.8 1945.9,1229.7 1946.3,1225.9 1946.7,1231.0 1947.1,1231.7 1947.6,1228.7 1948.0,1233.7 1948.4,1221.9 1948.8,1217.3 1949.2,1229.4 1949.7,1230.9 1950.1,1215.5 1950.5,1227.3 1950.9,1214.4 1951.4,1247.9 1951.8,1227.2 1952.2,1233.8 1952.6,1230.1 1953.1,1220.0 1953.5,1218.0 1953.9,1227.6 1954.3,1219.2 1954.8,1235.0 1955.2,1224.4 1955.6,1227.7 1956.0,1239.6 1956.5,1219.8 1956.9,1231.9 1957.3,1223.5 1957.7,1232.7 1958.2,1225.6 1958.6,1222.4 1959.0,1227.1 1959.4,1230.8 1959.8,1222.6 1960.3,1225.7 1960.7,1230.5 1961.1,1227.1 1961.5,1228.1 1962.0,1230.1 1962.4,1220.7 1962.8,1214.4 1963.2,1231.6 1963.7,1228.7 1964.1,1235.0 1964.5,1238.0 1964.9,1219.3 1965.4,1233.1 1965.8,1225.5 1966.2,1238.5 1966.6,1233.1 1967.1,1224.7 1967.5,1224.8 1967.9,1226.7 1968.3,1225.4 1968.8,1226.9 1969.2,1221.0 1969.6,1215.8 1970.0,1224.5 1970.4,1229.7 1970.9,1236.7 1971.3,1232.7 1971.7,1231.5 1972.1,1218.2 1972.6,1240.9 1973.0,1235.3 1973.4,1237.1 1973.8,1222.8 1974.3,1234.7 1974.7,1243.5 1975.1,1245.2 1975.5,1227.4 1976.0,1242.2 1976.4,1221.5 1976.8,1221.9 1977.2,1238.6 1977.7,1232.7 1978.1,1230.0 1978.5,1241.6 1978.9,1239.7 1979.4,1235.3 1979.8,1230.8 1980.2,1228.6 1980.6,1244.9 1981.0,1229.0 1981.5,1231.7 1981.9,1233.0 1982.3,1234.5 1982.7,1223.3 1983.2,1219.4 1983.6,1234.7 1984.0,1232.6 1984.4,1243.4 1984.9,1234.5 1985.3,1226.4 1985.7,1232.4 1986.1,1229.0 1986.6,1232.6 1987.0,1231.1 1987.4,1226.9 1987.8,1226.2 1988.3,1246.7 1988.7,1233.7 1989.1,1254.1 1989.5,1232.1 1990.0,1236.3 1990.4,1236.8 1990.8,1220.6 1991.2,1229.7 1991.6,1224.0 1992.1,1227.8 1992.5,1219.9 1992.9,1234.5 1993.3,1234.7 1993.8,1233.5 1994.2,1214.5 1994.6,1236.3 1995.0,1232.9 1995.5,1222.8 1995.9,1226.3 1996.3,1237.0 1996.7,1220.3 1997.2,1229.9 1997.6,1222.7 1998.0,1229.1 1998.4,1227.9 1998.9,1239.4 1999.3,1223.2 1999.7,1239.3 2000.1,1233.5 2000.6,1226.0 2001.0,1236.8 2001.4,1233.5 2001.8,1234.4 2002.2,1233.4 2002.7,1230.2 2003.1,1246.0 2003.5,1238.7 2003.9,1219.4 2004.4,1249.7 2004.8,1239.9 2005.2,1229.2 2005.6,1249.1 2006.1,1241.8 2006.5,1241.5 2006.9,1223.8 2007.3,1242.2 2007.8,1231.0 2008.2,1240.6 2008.6,1235.9 2009.0,1244.5 2009.5,1247.1 2009.9,1239.7 2010.3,1246.6 2010.7,1237.7 2011.2,1235.6 2011.6,1233.5 2012.0,1225.3 2012.4,1226.2 2012.8,1245.2 2013.3,1242.6 2013.7,1224.5 2014.1,1237.6 2014.5,1240.2 2015.0,1229.4 2015.4,1242.2 2015.8,1230.6 2016.2,1239.9 2016.7,1228.1 2017.1,1239.0 2017.5,1231.9 2017.9,1230.2 2018.4,1226.1 2018.8,1244.2 2019.2,1241.3 2019.6,1249.1 2020.1,1251.4 2020.5,1242.4 2020.9,1237.6 2021.3,1229.5 2021.8,1242.1 2022.2,1224.9 2022.6,1237.8 2023.0,1232.7 2023.4,1241.3 2023.9,1248.9 2024.3,1227.8 2024.7,1241.9 2025.1,1231.5 2025.6,1242.7 2026.0,1235.6 2026.4,1241.3 2026.8,1242.8 2027.3,1241.4 2027.7,1235.4 2028.1,1249.5 2028.5,1247.9 2029.0,1233.4 2029.4,1246.3 2029.8,1239.6 2030.2,1251.1 2030.7,1242.8 2031.1,1233.1 2031.5,1240.8 2031.9,1239.9 2032.4,1244.5 2032.8,1241.0 2033.2,1255.0 2033.6,1254.0 2034.0,1239.0 2034.5,1255.2 2034.9,1232.5 2035.3,1236.1 2035.7,1251.4 2036.2,1258.7 2036.6,1260.6 2037.0,1240.5 2037.4,1243.6 2037.9,1233.0 2038.3,1239.6 2038.7,1231.6 2039.1,1236.8 2039.6,1250.4 2040.0,1244.9 2040.4,1249.8 2040.8,1246.0 2041.3,1247.6 2041.7,1245.6 2042.1,1234.0 2042.5,1248.2 2043.0,1253.0 2043.4,1249.0 2043.8,1247.9 2044.2,1248.8 2044.6,1245.8 2045.1,1247.9 2045.5,1236.5 2045.9,1238.1 2046.3,1250.6 2046.8,1237.8 2047.2,1234.8 2047.6,1245.2 2048.0,1251.5 2048.5,1242.2 2048.9,1246.0 2049.3,1243.1 2049.7,1253.4 2050.2,1230.3 2050.6,1247.2 2051.0,1242.0 2051.4,1250.3 2051.9,1244.9 2052.3,1263.0 2052.7,1255.8 2053.1,1264.5 2053.6,1239.1 2054.0,1256.7 2054.4,1258.0 2054.8,1238.3 2055.2,1250.3 2055.7,1248.0 2056.1,1238.9 2056.5,1243.3 2056.9,1244.7 2057.4,1242.3 2057.8,1261.5 2058.2,1237.7 2058.6,1237.6 2059.1,1233.8 2059.5,1262.9 2059.9,1253.8 2060.3,1251.8 2060.8,1235.2 2061.2,1243.6 2061.6,1234.8 2062.0,1244.6 2062.5,1252.7 2062.9,1257.6 2063.3,1252.4 2063.7,1238.0 2064.2,1254.6 2064.6,1261.5 2065.0,1246.4 2065.4,1238.5 2065.8,1230.8 2066.3,1239.6 2066.7,1241.7 2067.1,1262.0 2067.5,1251.8 2068.0,1251.9 2068.4,1248.2 2068.8,1256.1 2069.2,1243.5 2069.7,1240.3 2070.1,1248.7 2070.5,1251.7 2070.9,1248.3 2071.4,1247.0 2071.8,1244.1 2072.2,1256.3 2072.6,1239.5 2073.1,1249.9 2073.5,1251.5 2073.9,1245.3 2074.3,1255.5 2074.8,1244.1 2075.2,1234.9 2075.6,1247.5 2076.0,1249.2 2076.4,1254.3 2076.9,1240.0 2077.3,1242.7 2077.7,1262.1 2078.1,1244.1 2078.6,1256.2 2079.0,1260.0 2079.4,1252.0 2079.8,1256.4 2080.3,1243.2 2080.7,1260.9 2081.1,1261.2 2081.5,1258.8 2082.0,1253.0 2082.4,1247.8 2082.8,1260.1 2083.2,1257.5 2083.7,1263.8 2084.1,1253.9 2084.5,1260.0 2084.9,1236.8 2085.4,1238.7 2085.8,1259.5 2086.2,1251.8 2086.6,1249.9 2087.0,1257.0 2087.5,1255.9 2087.9,1248.5 2088.3,1255.2 2088.7,1255.5 2089.2,1253.6 2089.6,1244.5 2090.0,1255.5 2090.4,1250.9 2090.9,1252.0 2091.3,1248.6 2091.7,1255.3 2092.1,1257.6 2092.6,1259.1 2093.0,1252.4 2093.4,1253.2 2093.8,1256.2 2094.3,1252.8 2094.7,1237.3 2095.1,1248.8 2095.5,1267.9 2096.0,1245.3 2096.4,1253.7 2096.8,1262.2 2097.2,1245.2 2097.6,1255.6 2098.1,1247.8 2098.5,1259.6 2098.9,1247.6 2099.3,1257.4 2099.8,1248.5 2100.2,1249.6 2100.6,1263.9 2101.0,1253.0 2101.5,1252.4 2101.9,1256.3 2102.3,1268.8 2102.7,1254.0 2103.2,1258.4 2103.6,1247.6 2104.0,1264.0 2104.4,1249.3 2104.9,1255.5 2105.3,1238.2 2105.7,1263.9 2106.1,1249.8 2106.6,1260.6 2107.0,1263.7 2107.4,1249.2 2107.8,1252.7 2108.2,1249.6 2108.7,1268.8 2109.1,1265.9 2109.5,1253.1 2109.9,1263.6 2110.4,1248.0 2110.8,1245.6 2111.2,1258.6 2111.6,1257.5 2112.1,1257.7 2112.5,1260.0 2112.9,1258.3 2113.3,1259.8 2113.8,1255.1 2114.2,1260.7 2114.6,1262.1 2115.0,1260.6 2115.5,1262.9 2115.9,1259.2 2116.3,1254.8 2116.7,1244.0 2117.2,1270.6 2117.6,1268.9 2118.0,1259.6 2118.4,1258.9 2118.8,1259.6 2119.3,1245.9 2119.7,1272.5 2120.1,1260.6 2120.5,1268.7 2121.0,1261.9 2121.4,1256.1 2121.8,1270.2 2122.2,1252.6 2122.7,1266.1 2123.1,1267.7 2123.5,1272.0 2123.9,1265.4 2124.4,1265.7 2124.8,1254.6 2125.2,1271.8 2125.6,1259.2 2126.1,1254.8 2126.5,1262.7 2126.9,1255.5 2127.3,1266.0 2127.8,1258.2 2128.2,1263.6 2128.6,1245.9 2129.0,1263.5 2129.4,1263.7 2129.9,1258.7 2130.3,1265.5 2130.7,1263.2 2131.1,1259.5 2131.6,1255.8 2132.0,1266.3 2132.4,1261.8 2132.8,1263.5 2133.3,1257.4 2133.7,1256.6 2134.1,1259.7 2134.5,1260.8 2135.0,1250.0 2135.4,1269.1 2135.8,1251.3 2136.2,1259.2 2136.7,1274.0 2137.1,1262.3 2137.5,1273.4 2137.9,1264.3 2138.4,1277.9 2138.8,1258.4 2139.2,1269.3 2139.6,1252.0 2140.0,1269.0 2140.5,1263.6 2140.9,1273.7 2141.3,1265.1 2141.7,1263.9 2142.2,1260.7 2142.6,1246.9 2143.0,1252.8 2143.4,1259.0 2143.9,1267.0 2144.3,1266.8 2144.7,1267.1 2145.1,1271.0 2145.6,1260.3 2146.0,1265.5 2146.4,1261.5 2146.8,1267.0 2147.3,1262.7 2147.7,1253.0 2148.1,1263.0 2148.5,1259.0 2149.0,1271.7 2149.4,1266.8 2149.8,1268.5 2150.2,1262.4 2150.6,1263.9 2151.1,1270.8 2151.5,1263.6 2151.9,1265.3 2152.3,1277.3 2152.8,1266.6 2153.2,1258.0 2153.6,1272.8 2154.0,1258.8 2154.5,1261.7 2154.9,1265.5 2155.3,1263.7 2155.7,1272.6 2156.2,1262.0 2156.6,1277.1 2157.0,1275.1 2157.4,1263.4 2157.9,1275.1 2158.3,1253.2 2158.7,1265.1 2159.1,1261.2 2159.6,1260.8 2160.0,1270.5 2160.4,1267.7 2160.8,1264.6 2161.2,1268.0 2161.7,1257.0 2162.1,1260.9 2162.5,1266.7 2162.9,1259.5 2163.4,1268.0 2163.8,1263.1 2164.2,1267.5 2164.6,1270.6 2165.1,1275.5 2165.5,1274.0 2165.9,1268.7 2166.3,1266.2 2166.8,1284.3 2167.2,1272.4 2167.6,1265.5 2168.0,1270.8 2168.5,1277.6 2168.9,1277.1 2169.3,1258.3 2169.7,1281.4 2170.2,1272.7 2170.6,1264.6 2171.0,1284.5"/>
<g filter="url(#aa)">
<text x="808.1" y="310.0" font-size="73.30" fill="#000000">2</text>
<text transform="translate(846.1,310.0) skewX(-16) scale(1.2,0.96)" font-size="73.30" fill="#000000">θ</text>
<text x="901.6" y="310.0" font-size="73.30" fill="#000000">= 43.28°</text>
<text x="1350.8" y="315.0" font-size="73.30" fill="#000000">2</text>
<text transform="translate(1388.8,315.0) skewX(-16) scale(1.2,0.96)" font-size="73.30" fill="#000000">θ</text>
<text x="1444.3" y="315.0" font-size="73.30" fill="#000000">= 50.40°</text>
<text x="713.9" y="1308.0" font-size="73.30" fill="#ff0000">2</text>
<text transform="translate(751.9,1308.0) skewX(-16) scale(1.2,0.96)" font-size="73.30" fill="#ff0000">θ</text>
<text x="807.4" y="1308.0" font-size="73.30" fill="#ff0000">= 19.72°</text>
<text x="1388.0" y="948.5" font-size="73.30" fill="#000000">Cu <tspan dx="-1">(II) </tspan><tspan dx="1" letter-spacing="-0.5">loaded </tspan><tspan dx="-1.5">H</tspan><tspan font-size="54" dx="0" dy="-28">+</tspan><tspan dx="-2" dy="28"> Chelating <tspan dx="-2.3">resin</tspan></tspan></text>
<text x="1387.2" y="1046.0" font-size="73.30" fill="#000000">Dowex–<tspan dx="2">M419</tspan><tspan dx="-2">5</tspan></text>
<text x="877.0" y="1486.0" font-size="73.30" fill="#ff0000">H<tspan font-size="54" dx="0" dy="-28">+</tspan><tspan dx="-2" dy="28"> Chelating <tspan dx="-2.7">resin </tspan><tspan dx="-1.7">Dowex</tspan><tspan dx="1">–</tspan><tspan dx="1.5">M419</tspan><tspan dx="-2.5">5</tspan></tspan></text>
</g>
<g stroke="#000000" stroke-width="6" fill="none" shape-rendering="crispEdges">
<rect x="263" y="124" width="2120" height="1394"/>
<path d="M263,96V124M263,1518V1545M369,110V124M369,1518V1532M475,96V124M475,1518V1545M581,110V124M581,1518V1532M687,96V124M687,1518V1545M793,110V124M793,1518V1532M899,96V124M899,1518V1545M1005,110V124M1005,1518V1532M1111,96V124M1111,1518V1545M1217,110V124M1217,1518V1532M1323,96V124M1323,1518V1545M1429,110V124M1429,1518V1532M1535,96V124M1535,1518V1545M1641,110V124M1641,1518V1532M1747,96V124M1747,1518V1545M1853,110V124M1853,1518V1532M1959,96V124M1959,1518V1545M2065,110V124M2065,1518V1532M2171,96V124M2171,1518V1545M2277,110V124M2277,1518V1532M2383,96V124M2383,1518V1545M235,1518H263M249,1419H263M235,1319H263M249,1220H263M235,1120H263M249,1020H263M235,921H263M249,821H263M235,722H263M249,622H263M235,522H263M249,423H263M235,323H263M249,224H263M235,124H263"/>
</g>
<g filter="url(#aa)">
<g font-size="58.70" fill="#000000" text-anchor="middle">
<text x="263.0" y="64">0</text>
<text x="263.0" y="1609">0</text>
<text x="475.0" y="64">10</text>
<text x="475.0" y="1609">10</text>
<text x="687.0" y="64">20</text>
<text x="687.0" y="1609">20</text>
<text x="899.0" y="64">30</text>
<text x="899.0" y="1609">30</text>
<text x="1111.0" y="64">40</text>
<text x="1111.0" y="1609">40</text>
<text x="1323.0" y="64">50</text>
<text x="1323.0" y="1609">50</text>
<text x="1535.0" y="64">60</text>
<text x="1535.0" y="1609">60</text>
<text x="1747.0" y="64">70</text>
<text x="1747.0" y="1609">70</text>
<text x="1959.0" y="64">80</text>
<text x="1959.0" y="1609">80</text>
<text x="2171.0" y="64">90</text>
<text x="2171.0" y="1609">90</text>
<text x="2383.0" y="64">100</text>
<text x="2383.0" y="1609">100</text>
</g>
<g font-size="58.70" fill="#000000" text-anchor="end">
<text x="216.3" y="1534.8">0</text>
<text x="216.3" y="1335.7">1000</text>
<text x="216.3" y="1136.5">2000</text>
<text x="216.3" y="937.4">3000</text>
<text x="216.3" y="738.2">4000</text>
<text x="216.3" y="539.1">5000</text>
<text x="216.3" y="339.9">6000</text>
<text x="216.3" y="140.8">7000</text>
</g>
<text x="1323.5" y="1723" font-size="73.30" text-anchor="middle" fill="#000000">2Theta (Coupled TwoTheta/Theta) WL = 1.54060</text>
<text transform="translate(68.0,821.0) rotate(-90)" font-size="73.30" text-anchor="middle" fill="#000000">Counts</text>
</g>
</svg></body></html>
